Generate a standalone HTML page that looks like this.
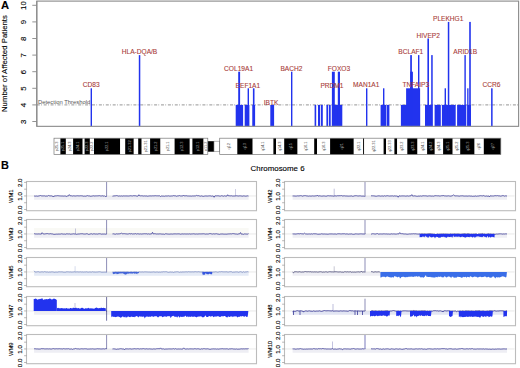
<!DOCTYPE html>
<html><head><meta charset="utf-8"><style>
html,body{margin:0;padding:0;background:#fff;}
body{width:520px;height:368px;overflow:hidden;}
svg{display:block;}
text{stroke:#000;stroke-width:0.12px;}
text.r{stroke:#a83c38;stroke-width:0.1px;}
text.n{stroke:none;}
</style></head><body>
<svg width="520" height="368" viewBox="0 0 520 368">
<rect width="520" height="368" fill="#fff"/>
<text x="0.9" y="9.0" font-size="11.2" font-weight="bold" font-family='"Liberation Sans", sans-serif'>A</text>
<text transform="translate(6.7,63.6) rotate(-90)" text-anchor="middle" font-size="7.8" font-family='"Liberation Sans", sans-serif'>Number of Affected Patients</text>
<text transform="translate(25.8,121.80) rotate(-90)" text-anchor="middle" font-size="7.8" font-family='"Liberation Sans", sans-serif'>3</text>
<line x1="32.3" y1="121.50" x2="36.8" y2="121.50" stroke="#777" stroke-width="0.8"/>
<text transform="translate(25.8,105.20) rotate(-90)" text-anchor="middle" font-size="7.8" font-family='"Liberation Sans", sans-serif'>4</text>
<line x1="32.3" y1="104.90" x2="36.8" y2="104.90" stroke="#777" stroke-width="0.8"/>
<text transform="translate(25.8,88.60) rotate(-90)" text-anchor="middle" font-size="7.8" font-family='"Liberation Sans", sans-serif'>5</text>
<line x1="32.3" y1="88.30" x2="36.8" y2="88.30" stroke="#777" stroke-width="0.8"/>
<text transform="translate(25.8,72.00) rotate(-90)" text-anchor="middle" font-size="7.8" font-family='"Liberation Sans", sans-serif'>6</text>
<line x1="32.3" y1="71.70" x2="36.8" y2="71.70" stroke="#777" stroke-width="0.8"/>
<text transform="translate(25.8,55.40) rotate(-90)" text-anchor="middle" font-size="7.8" font-family='"Liberation Sans", sans-serif'>7</text>
<line x1="32.3" y1="55.10" x2="36.8" y2="55.10" stroke="#777" stroke-width="0.8"/>
<text transform="translate(25.8,38.80) rotate(-90)" text-anchor="middle" font-size="7.8" font-family='"Liberation Sans", sans-serif'>8</text>
<line x1="32.3" y1="38.50" x2="36.8" y2="38.50" stroke="#777" stroke-width="0.8"/>
<text transform="translate(25.8,22.20) rotate(-90)" text-anchor="middle" font-size="7.8" font-family='"Liberation Sans", sans-serif'>9</text>
<line x1="32.3" y1="21.90" x2="36.8" y2="21.90" stroke="#777" stroke-width="0.8"/>
<text transform="translate(25.8,5.60) rotate(-90)" text-anchor="middle" font-size="7.8" font-family='"Liberation Sans", sans-serif'>10</text>
<line x1="32.3" y1="5.30" x2="36.8" y2="5.30" stroke="#777" stroke-width="0.8"/>
<line x1="36.8" y1="104.9" x2="518.6" y2="104.9" stroke="#8a8a8a" stroke-width="0.9" stroke-dasharray="3 1.3 0.8 1.8"/>
<text class="n" x="38" y="104.1" font-size="5.85" fill="#555" font-family='"Liberation Sans", sans-serif'>Detection Threshold</text>
<rect x="90.6" y="88.30" width="1.40" height="38.05" fill="#2233ee"/>
<rect x="138.8" y="55.10" width="1.50" height="71.25" fill="#2233ee"/>
<rect x="235.7" y="104.90" width="7.40" height="21.45" fill="#2233ee"/>
<rect x="238.2" y="71.70" width="1.90" height="54.65" fill="#2233ee"/>
<rect x="244.7" y="104.90" width="4.70" height="21.45" fill="#2233ee"/>
<rect x="247.6" y="88.30" width="1.40" height="38.05" fill="#2233ee"/>
<rect x="252.3" y="104.90" width="2.80" height="21.45" fill="#2233ee"/>
<rect x="252.9" y="88.30" width="1.60" height="38.05" fill="#2233ee"/>
<rect x="270.3" y="104.90" width="3.80" height="21.45" fill="#2233ee"/>
<rect x="291.0" y="71.70" width="1.40" height="54.65" fill="#2233ee"/>
<rect x="314.6" y="104.90" width="1.60" height="21.45" fill="#2233ee"/>
<rect x="318.0" y="104.90" width="2.10" height="21.45" fill="#2233ee"/>
<rect x="320.9" y="104.90" width="1.90" height="21.45" fill="#2233ee"/>
<rect x="326.4" y="104.90" width="1.80" height="21.45" fill="#2233ee"/>
<rect x="329.0" y="104.90" width="1.70" height="21.45" fill="#2233ee"/>
<rect x="331.9" y="104.90" width="10.40" height="21.45" fill="#2233ee"/>
<rect x="331.9" y="71.70" width="2.90" height="54.65" fill="#2233ee"/>
<rect x="337.8" y="71.70" width="2.20" height="54.65" fill="#2233ee"/>
<rect x="366.0" y="88.30" width="1.40" height="38.05" fill="#2233ee"/>
<rect x="380.6" y="104.90" width="5.60" height="21.45" fill="#2233ee"/>
<rect x="386.7" y="104.90" width="2.70" height="21.45" fill="#2233ee"/>
<rect x="383.0" y="88.30" width="1.40" height="38.05" fill="#2233ee"/>
<rect x="400.9" y="104.90" width="19.20" height="21.45" fill="#2233ee"/>
<rect x="406.1" y="88.30" width="14.00" height="38.05" fill="#2233ee"/>
<rect x="410.2" y="71.70" width="2.70" height="54.65" fill="#2233ee"/>
<rect x="410.2" y="55.10" width="1.70" height="71.25" fill="#2233ee"/>
<rect x="418.0" y="55.10" width="1.40" height="71.25" fill="#2233ee"/>
<rect x="425.0" y="104.90" width="7.50" height="21.45" fill="#2233ee"/>
<rect x="427.4" y="38.50" width="1.60" height="87.85" fill="#2233ee"/>
<rect x="431.2" y="55.10" width="1.50" height="71.25" fill="#2233ee"/>
<rect x="434.6" y="104.90" width="6.20" height="21.45" fill="#2233ee"/>
<rect x="441.9" y="104.90" width="13.80" height="21.45" fill="#2233ee"/>
<rect x="444.6" y="88.30" width="1.40" height="38.05" fill="#2233ee"/>
<rect x="447.8" y="21.90" width="1.50" height="104.45" fill="#2233ee"/>
<rect x="457.1" y="104.90" width="9.20" height="21.45" fill="#2233ee"/>
<rect x="464.4" y="55.10" width="1.40" height="71.25" fill="#2233ee"/>
<rect x="467.3" y="104.90" width="3.70" height="21.45" fill="#2233ee"/>
<rect x="467.2" y="88.30" width="1.30" height="38.05" fill="#2233ee"/>
<rect x="469.2" y="21.90" width="1.60" height="104.45" fill="#2233ee"/>
<rect x="491.1" y="88.30" width="1.50" height="38.05" fill="#2233ee"/>
<text class="r" x="91.2" y="87.0" text-anchor="middle" font-size="6.6" fill="#a83c38" font-family='"Liberation Sans", sans-serif'>CD83</text>
<text class="r" x="139.5" y="54.2" text-anchor="middle" font-size="6.6" fill="#a83c38" font-family='"Liberation Sans", sans-serif'>HLA-DQA/B</text>
<text class="r" x="238.6" y="70.9" text-anchor="middle" font-size="6.6" fill="#a83c38" font-family='"Liberation Sans", sans-serif'>COL19A1</text>
<text class="r" x="247.9" y="87.5" text-anchor="middle" font-size="6.6" fill="#a83c38" font-family='"Liberation Sans", sans-serif'>EEF1A1</text>
<text class="r" x="271.0" y="104.7" text-anchor="middle" font-size="6.6" fill="#a83c38" font-family='"Liberation Sans", sans-serif'>IBTK</text>
<text class="r" x="291.4" y="70.7" text-anchor="middle" font-size="6.6" fill="#a83c38" font-family='"Liberation Sans", sans-serif'>BACH2</text>
<text class="r" x="332.0" y="87.5" text-anchor="middle" font-size="6.6" fill="#a83c38" font-family='"Liberation Sans", sans-serif'>PRDM1</text>
<text class="r" x="339.0" y="70.8" text-anchor="middle" font-size="6.6" fill="#a83c38" font-family='"Liberation Sans", sans-serif'>FOXO3</text>
<text class="r" x="366.2" y="87.2" text-anchor="middle" font-size="6.6" fill="#a83c38" font-family='"Liberation Sans", sans-serif'>MAN1A1</text>
<text class="r" x="410.8" y="54.4" text-anchor="middle" font-size="6.6" fill="#a83c38" font-family='"Liberation Sans", sans-serif'>BCLAF1</text>
<text class="r" x="415.8" y="87.0" text-anchor="middle" font-size="6.6" fill="#a83c38" font-family='"Liberation Sans", sans-serif'>TNFAIP3</text>
<text class="r" x="428.2" y="37.8" text-anchor="middle" font-size="6.6" fill="#a83c38" font-family='"Liberation Sans", sans-serif'>HIVEP2</text>
<text class="r" x="448.2" y="21.3" text-anchor="middle" font-size="6.6" fill="#a83c38" font-family='"Liberation Sans", sans-serif'>PLEKHG1</text>
<text class="r" x="465.2" y="54.2" text-anchor="middle" font-size="6.6" fill="#a83c38" font-family='"Liberation Sans", sans-serif'>ARID1B</text>
<text class="r" x="491.5" y="87.3" text-anchor="middle" font-size="6.6" fill="#a83c38" font-family='"Liberation Sans", sans-serif'>CCR6</text>
<rect x="36.8" y="1.1" width="481.80" height="125.25" fill="none" stroke="#8e8e8e" stroke-width="1.15"/>
<line x1="36.8" y1="1.1" x2="36.8" y2="126.35" stroke="#888" stroke-width="1"/>
<rect x="54.0" y="138.2" width="6.40" height="16.30" fill="#fff"/>
<text class="n" transform="translate(58.40,146.35) rotate(-90)" text-anchor="middle" font-size="3.9" fill="#444" font-family='"Liberation Sans", sans-serif'>p25.3</text>
<rect x="60.4" y="138.2" width="5.50" height="16.30" fill="#000"/>
<text class="n" transform="translate(64.35,146.35) rotate(-90)" text-anchor="middle" font-size="3.9" fill="#aaa" font-family='"Liberation Sans", sans-serif'>p25.1</text>
<rect x="65.9" y="138.2" width="7.20" height="16.30" fill="#fff"/>
<text class="n" transform="translate(70.70,146.35) rotate(-90)" text-anchor="middle" font-size="3.9" fill="#444" font-family='"Liberation Sans", sans-serif'>p24.3</text>
<rect x="73.1" y="138.2" width="9.60" height="16.30" fill="#000"/>
<text class="n" transform="translate(79.10,146.35) rotate(-90)" text-anchor="middle" font-size="3.9" fill="#aaa" font-family='"Liberation Sans", sans-serif'>p24.1</text>
<rect x="82.7" y="138.2" width="1.90" height="16.30" fill="#fff"/>
<rect x="84.6" y="138.2" width="5.30" height="16.30" fill="#000"/>
<text class="n" transform="translate(88.45,146.35) rotate(-90)" text-anchor="middle" font-size="3.9" fill="#aaa" font-family='"Liberation Sans", sans-serif'>p22.3</text>
<rect x="89.9" y="138.2" width="4.10" height="16.30" fill="#fff"/>
<text class="n" transform="translate(93.15,146.35) rotate(-90)" text-anchor="middle" font-size="3.9" fill="#444" font-family='"Liberation Sans", sans-serif'>p22.2</text>
<rect x="94.0" y="138.2" width="26.20" height="16.30" fill="#000"/>
<text class="n" transform="translate(108.30,146.35) rotate(-90)" text-anchor="middle" font-size="3.9" fill="#aaa" font-family='"Liberation Sans", sans-serif'>p22.1</text>
<rect x="120.2" y="138.2" width="5.00" height="16.30" fill="#fff"/>
<rect x="125.2" y="138.2" width="8.60" height="16.30" fill="#000"/>
<text class="n" transform="translate(130.70,146.35) rotate(-90)" text-anchor="middle" font-size="3.9" fill="#aaa" font-family='"Liberation Sans", sans-serif'>p21.32</text>
<rect x="133.8" y="138.2" width="4.40" height="16.30" fill="#fff"/>
<rect x="138.2" y="138.2" width="3.50" height="16.30" fill="#000"/>
<rect x="141.7" y="138.2" width="8.40" height="16.30" fill="#fff"/>
<text class="n" transform="translate(147.10,146.35) rotate(-90)" text-anchor="middle" font-size="3.9" fill="#444" font-family='"Liberation Sans", sans-serif'>p21.31</text>
<rect x="150.1" y="138.2" width="10.40" height="16.30" fill="#000"/>
<text class="n" transform="translate(156.50,146.35) rotate(-90)" text-anchor="middle" font-size="3.9" fill="#aaa" font-family='"Liberation Sans", sans-serif'>p21.2</text>
<rect x="160.5" y="138.2" width="14.10" height="16.30" fill="#fff"/>
<text class="n" transform="translate(168.75,146.35) rotate(-90)" text-anchor="middle" font-size="3.9" fill="#444" font-family='"Liberation Sans", sans-serif'>p21.1</text>
<rect x="174.6" y="138.2" width="15.20" height="16.30" fill="#000"/>
<text class="n" transform="translate(183.40,146.35) rotate(-90)" text-anchor="middle" font-size="3.9" fill="#aaa" font-family='"Liberation Sans", sans-serif'>p12.3</text>
<rect x="189.8" y="138.2" width="2.60" height="16.30" fill="#fff"/>
<rect x="192.4" y="138.2" width="11.20" height="16.30" fill="#000"/>
<text class="n" transform="translate(199.20,146.35) rotate(-90)" text-anchor="middle" font-size="3.9" fill="#aaa" font-family='"Liberation Sans", sans-serif'>p12.1</text>
<rect x="203.6" y="138.2" width="4.20" height="16.30" fill="#fff"/>
<text class="n" transform="translate(206.90,146.35) rotate(-90)" text-anchor="middle" font-size="3.9" fill="#444" font-family='"Liberation Sans", sans-serif'>p11.2</text>
<rect x="219.7" y="138.2" width="17.60" height="16.30" fill="#fff"/>
<text class="n" transform="translate(229.70,146.35) rotate(-90)" text-anchor="middle" font-size="3.9" fill="#444" font-family='"Liberation Sans", sans-serif'>q12</text>
<rect x="237.3" y="138.2" width="15.40" height="16.30" fill="#000"/>
<text class="n" transform="translate(246.20,146.35) rotate(-90)" text-anchor="middle" font-size="3.9" fill="#aaa" font-family='"Liberation Sans", sans-serif'>q13</text>
<rect x="252.7" y="138.2" width="20.70" height="16.30" fill="#fff"/>
<text class="n" transform="translate(264.25,146.35) rotate(-90)" text-anchor="middle" font-size="3.9" fill="#444" font-family='"Liberation Sans", sans-serif'>q14.1</text>
<rect x="273.4" y="138.2" width="2.60" height="16.30" fill="#000"/>
<rect x="276.0" y="138.2" width="8.20" height="16.30" fill="#fff"/>
<text class="n" transform="translate(281.30,146.35) rotate(-90)" text-anchor="middle" font-size="3.9" fill="#444" font-family='"Liberation Sans", sans-serif'>q14.3</text>
<rect x="284.2" y="138.2" width="13.40" height="16.30" fill="#000"/>
<text class="n" transform="translate(292.10,146.35) rotate(-90)" text-anchor="middle" font-size="3.9" fill="#aaa" font-family='"Liberation Sans", sans-serif'>q15</text>
<rect x="297.6" y="138.2" width="16.60" height="16.30" fill="#fff"/>
<text class="n" transform="translate(307.10,146.35) rotate(-90)" text-anchor="middle" font-size="3.9" fill="#444" font-family='"Liberation Sans", sans-serif'>q16.1</text>
<rect x="314.2" y="138.2" width="2.90" height="16.30" fill="#000"/>
<rect x="317.1" y="138.2" width="13.00" height="16.30" fill="#fff"/>
<text class="n" transform="translate(324.80,146.35) rotate(-90)" text-anchor="middle" font-size="3.9" fill="#444" font-family='"Liberation Sans", sans-serif'>q16.3</text>
<rect x="330.1" y="138.2" width="23.70" height="16.30" fill="#000"/>
<text class="n" transform="translate(343.15,146.35) rotate(-90)" text-anchor="middle" font-size="3.9" fill="#aaa" font-family='"Liberation Sans", sans-serif'>q21</text>
<rect x="353.8" y="138.2" width="9.30" height="16.30" fill="#fff"/>
<text class="n" transform="translate(359.65,146.35) rotate(-90)" text-anchor="middle" font-size="3.9" fill="#444" font-family='"Liberation Sans", sans-serif'>q22.1</text>
<rect x="363.1" y="138.2" width="1.10" height="16.30" fill="#000"/>
<rect x="364.2" y="138.2" width="19.40" height="16.30" fill="#fff"/>
<text class="n" transform="translate(375.10,146.35) rotate(-90)" text-anchor="middle" font-size="3.9" fill="#444" font-family='"Liberation Sans", sans-serif'>q22.31</text>
<rect x="383.6" y="138.2" width="2.50" height="16.30" fill="#000"/>
<rect x="386.1" y="138.2" width="8.30" height="16.30" fill="#fff"/>
<text class="n" transform="translate(391.45,146.35) rotate(-90)" text-anchor="middle" font-size="3.9" fill="#444" font-family='"Liberation Sans", sans-serif'>q22.33</text>
<rect x="394.4" y="138.2" width="2.80" height="16.30" fill="#000"/>
<rect x="397.2" y="138.2" width="10.10" height="16.30" fill="#fff"/>
<text class="n" transform="translate(403.45,146.35) rotate(-90)" text-anchor="middle" font-size="3.9" fill="#444" font-family='"Liberation Sans", sans-serif'>q23.2</text>
<rect x="407.3" y="138.2" width="10.20" height="16.30" fill="#000"/>
<text class="n" transform="translate(413.60,146.35) rotate(-90)" text-anchor="middle" font-size="3.9" fill="#aaa" font-family='"Liberation Sans", sans-serif'>q23.3</text>
<rect x="417.5" y="138.2" width="9.60" height="16.30" fill="#fff"/>
<text class="n" transform="translate(423.50,146.35) rotate(-90)" text-anchor="middle" font-size="3.9" fill="#444" font-family='"Liberation Sans", sans-serif'>q24.1</text>
<rect x="427.1" y="138.2" width="7.70" height="16.30" fill="#000"/>
<text class="n" transform="translate(432.15,146.35) rotate(-90)" text-anchor="middle" font-size="3.9" fill="#aaa" font-family='"Liberation Sans", sans-serif'>q24.2</text>
<rect x="434.8" y="138.2" width="8.30" height="16.30" fill="#fff"/>
<text class="n" transform="translate(440.15,146.35) rotate(-90)" text-anchor="middle" font-size="3.9" fill="#444" font-family='"Liberation Sans", sans-serif'>q24.3</text>
<rect x="443.1" y="138.2" width="9.60" height="16.30" fill="#000"/>
<text class="n" transform="translate(449.10,146.35) rotate(-90)" text-anchor="middle" font-size="3.9" fill="#aaa" font-family='"Liberation Sans", sans-serif'>q25.1</text>
<rect x="452.7" y="138.2" width="7.50" height="16.30" fill="#fff"/>
<text class="n" transform="translate(457.65,146.35) rotate(-90)" text-anchor="middle" font-size="3.9" fill="#444" font-family='"Liberation Sans", sans-serif'>q25.2</text>
<rect x="460.2" y="138.2" width="14.40" height="16.30" fill="#000"/>
<text class="n" transform="translate(468.60,146.35) rotate(-90)" text-anchor="middle" font-size="3.9" fill="#aaa" font-family='"Liberation Sans", sans-serif'>q25.3</text>
<rect x="474.6" y="138.2" width="9.20" height="16.30" fill="#fff"/>
<text class="n" transform="translate(480.40,146.35) rotate(-90)" text-anchor="middle" font-size="3.9" fill="#444" font-family='"Liberation Sans", sans-serif'>q26</text>
<rect x="483.8" y="138.2" width="17.00" height="16.30" fill="#000"/>
<text class="n" transform="translate(493.50,146.35) rotate(-90)" text-anchor="middle" font-size="3.9" fill="#aaa" font-family='"Liberation Sans", sans-serif'>q27</text>
<rect x="207.8" y="141.2" width="6.2" height="10.5" fill="#000"/>
<rect x="214.0" y="141.2" width="5.7" height="10.5" fill="#fff" stroke="#888" stroke-width="0.6"/>
<rect x="54.0" y="138.2" width="153.80" height="16.30" fill="none" stroke="#777" stroke-width="0.7"/>
<rect x="219.7" y="138.2" width="281.10" height="16.30" fill="none" stroke="#777" stroke-width="0.7"/>
<text x="0.9" y="169.4" font-size="10.9" font-weight="bold" font-family='"Liberation Sans", sans-serif'>B</text>
<text x="277.6" y="171.3" text-anchor="middle" font-size="7.9" font-family='"Liberation Sans", sans-serif'>Chromosome 6</text>
<rect x="34.1" y="195.95" width="214.5" height="3.8" fill="#eeeef4"/>
<line x1="26.5" y1="195.95" x2="256.5" y2="195.95" stroke="#dcdcdc" stroke-width="0.6"/>
<polyline points="34.1,196.13 34.9,195.96 35.7,196.15 36.5,196.03 37.3,196.16 38.1,196.22 38.9,195.81 39.7,195.76 40.5,195.50 41.3,195.84 42.1,195.90 42.9,195.91 43.7,195.90 44.5,195.83 45.3,196.17 46.1,195.92 46.9,196.16 47.7,196.02 48.5,195.48 49.3,195.79 50.1,195.94 50.9,195.85 51.7,195.90 52.5,196.08 53.3,197.02 54.1,195.94 54.9,196.11 55.7,195.84 56.5,195.84 57.3,195.70 58.1,195.71 58.9,195.85 59.7,195.92 60.5,195.96 61.3,195.99 62.1,196.05 62.9,195.97 63.7,196.11 64.5,196.00 65.3,195.97 66.1,196.39 66.9,196.39 67.7,195.90 68.5,195.94 69.3,194.61 70.1,195.79 70.9,195.80 71.7,195.85 72.5,196.06 73.3,195.83 74.1,195.87 74.9,195.99 75.7,196.00 76.5,195.87 77.3,195.81 78.1,195.72 78.9,196.00 79.7,195.86 80.5,195.78 81.3,195.78 82.1,196.01 82.9,195.87 83.7,196.26 84.5,196.10 85.3,196.22 86.1,196.02 86.9,195.90 87.7,195.61 88.5,195.93 89.3,195.88 90.1,196.32 90.9,196.16 91.7,196.15 92.5,195.98 93.3,195.77 94.1,195.95 94.9,196.03 95.7,195.88 96.5,195.88 97.3,195.90 98.1,195.78 98.9,195.82 99.7,195.68 100.5,195.95 101.3,195.98 102.1,195.91 102.9,195.71 103.7,196.15 104.5,195.80 105.3,196.61 106.1,196.23 106.9,196.41" fill="none" stroke="#4a4aa0" stroke-width="0.9" stroke-linejoin="round"/><polyline points="112.5,196.21 113.3,196.04 114.1,195.85 114.9,195.91 115.7,195.78 116.5,195.61 117.3,195.73 118.1,195.96 118.9,196.20 119.7,195.92 120.5,196.09 121.3,195.87 122.1,196.20 122.9,196.03 123.7,195.86 124.5,195.96 125.3,195.97 126.1,195.85 126.9,196.05 127.7,195.98 128.5,196.02 129.3,195.96 130.1,195.73 130.9,195.81 131.7,195.89 132.5,195.96 133.3,195.68 134.1,195.81 134.9,195.70 135.7,195.80 136.5,196.05 137.3,196.21 138.1,195.99 138.9,194.76 139.7,195.79 140.5,195.87 141.3,195.76 142.1,195.94 142.9,195.81 143.7,196.09 144.5,195.88 145.3,196.02 146.1,195.96 146.9,195.97 147.7,196.23 148.5,196.05 149.3,195.92 150.1,195.95 150.9,195.88 151.7,195.96 152.5,195.84 153.3,195.85 154.1,195.93 154.9,195.71 155.7,195.73 156.5,195.84 157.3,195.82 158.1,195.96 158.9,195.77 159.7,195.85 160.5,196.52 161.3,196.04 162.1,196.05 162.9,196.13 163.7,196.11 164.5,196.24 165.3,195.96 166.1,196.12 166.9,195.91 167.7,196.00 168.5,195.83 169.3,196.06 170.1,196.10 170.9,196.04 171.7,195.97 172.5,195.95 173.3,195.63 174.1,195.75 174.9,195.83 175.7,195.86 176.5,196.24 177.3,195.97 178.1,195.95 178.9,195.78 179.7,195.58 180.5,195.95 181.3,195.98 182.1,195.94 182.9,195.91 183.7,195.05 184.5,196.07 185.3,195.83 186.1,195.78 186.9,195.77 187.7,196.04 188.5,196.01 189.3,196.06 190.1,196.00 190.9,196.09 191.7,196.14 192.5,195.95 193.3,196.03 194.1,195.87 194.9,196.00 195.7,195.86 196.5,195.40 197.3,195.74 198.1,195.64 198.9,195.76 199.7,196.02 200.5,196.16 201.3,195.89 202.1,196.07 202.9,196.29 203.7,196.32 204.5,196.09 205.3,195.98 206.1,195.91 206.9,196.10 207.7,196.06 208.5,195.95 209.3,195.86 210.1,195.86 210.9,195.95 211.7,196.20 212.5,195.98 213.3,196.12 214.1,197.27 214.9,195.91 215.7,195.79 216.5,195.86 217.3,195.84 218.1,195.70 218.9,196.03 219.7,196.08 220.5,196.11 221.3,195.74 222.1,195.90 222.9,195.94 223.7,196.21 224.5,195.80 225.3,196.08 226.1,195.98 226.9,196.11 227.7,194.75 228.5,195.86 229.3,195.81 230.1,195.86 230.9,195.89 231.7,195.78 232.5,196.06 233.3,196.01 234.1,196.12 234.9,195.89 235.7,195.92 236.5,195.78 237.3,195.90 238.1,195.95 238.9,196.05 239.7,195.83 240.5,195.87 241.3,195.98 242.1,196.17 242.9,196.09 243.7,195.86 244.5,195.98 245.3,196.15 246.1,196.07 246.9,196.03 247.7,195.83 248.5,196.03" fill="none" stroke="#4a4aa0" stroke-width="0.9" stroke-linejoin="round"/>
<line x1="235.7" y1="189.0" x2="235.7" y2="195.95" stroke="#4a4aa0" stroke-width="0.6" opacity="0.55"/>
<line x1="106.6" y1="181.50" x2="106.6" y2="195.95" stroke="#5c5c98" stroke-width="0.7"/>
<rect x="26.5" y="181.50" width="230.0" height="29.2" fill="none" stroke="#bcbcbc" stroke-width="1.1"/>
<line x1="24.1" y1="209.50" x2="26.5" y2="209.50" stroke="#888" stroke-width="0.6"/>
<line x1="24.1" y1="202.72" x2="26.5" y2="202.72" stroke="#888" stroke-width="0.6"/>
<line x1="24.1" y1="195.95" x2="26.5" y2="195.95" stroke="#888" stroke-width="0.6"/>
<line x1="24.1" y1="189.18" x2="26.5" y2="189.18" stroke="#888" stroke-width="0.6"/>
<line x1="24.1" y1="182.40" x2="26.5" y2="182.40" stroke="#888" stroke-width="0.6"/>
<text transform="translate(21.90,209.90) rotate(-90)" text-anchor="middle" font-size="6.2" font-family='"Liberation Sans", sans-serif'>0.0</text>
<text transform="translate(21.90,196.35) rotate(-90)" text-anchor="middle" font-size="6.2" font-family='"Liberation Sans", sans-serif'>1.0</text>
<text transform="translate(21.90,182.80) rotate(-90)" text-anchor="middle" font-size="6.2" font-family='"Liberation Sans", sans-serif'>2.0</text>
<text transform="translate(13.30,196.30) rotate(-90)" text-anchor="middle" font-size="5.8" font-family='"Liberation Sans", sans-serif'>WM1</text>
<rect x="292.6" y="195.95" width="214.4" height="3.8" fill="#eeeef4"/>
<line x1="284.5" y1="195.95" x2="514.5" y2="195.95" stroke="#dcdcdc" stroke-width="0.6"/>
<polyline points="292.6,195.94 293.4,195.95 294.2,195.98 295.0,196.06 295.8,196.10 296.6,196.06 297.4,195.85 298.2,196.03 299.0,195.74 299.8,195.88 300.6,195.67 301.4,195.73 302.2,196.18 303.0,196.02 303.8,195.74 304.6,195.66 305.4,195.65 306.2,195.90 307.0,195.87 307.8,196.07 308.6,196.16 309.4,195.99 310.2,196.04 311.0,196.16 311.8,196.00 312.6,195.90 313.4,196.03 314.2,196.01 315.0,196.06 315.8,195.82 316.6,195.96 317.4,195.07 318.2,196.17 319.0,195.88 319.8,195.81 320.6,195.99 321.4,196.13 322.2,196.12 323.0,195.99 323.8,195.93 324.6,195.99 325.4,196.15 326.2,196.20 327.0,196.05 327.8,195.71 328.6,195.74 329.4,195.88 330.2,195.79 331.0,195.97 331.8,195.91 332.6,195.98 333.4,196.19 334.2,196.01 335.0,195.88 335.8,195.88 336.6,196.00 337.4,195.74 338.2,195.79 339.0,195.78 339.8,195.72 340.6,195.71 341.4,195.56 342.2,195.93 343.0,195.99 343.8,195.84 344.6,195.82 345.4,195.97 346.2,196.06 347.0,195.87 347.8,196.17 348.6,196.13 349.4,196.10 350.2,196.04 351.0,195.99 351.8,195.93 352.6,196.30 353.4,196.23 354.2,195.88 355.0,195.85 355.8,195.70 356.6,195.74 357.4,195.93 358.2,196.01 359.0,195.97 359.8,195.85 360.6,195.90 361.4,196.08 362.2,196.08 363.0,196.15 363.8,196.11 364.6,196.32 365.4,196.23" fill="none" stroke="#4a4aa0" stroke-width="0.9" stroke-linejoin="round"/><polyline points="371.0,195.74 371.8,195.83 372.6,195.82 373.4,195.85 374.2,195.93 375.0,196.10 375.8,196.21 376.6,196.23 377.4,196.00 378.2,195.89 379.0,195.87 379.8,195.96 380.6,196.15 381.4,196.04 382.2,195.89 383.0,196.19 383.8,196.12 384.6,195.76 385.4,196.10 386.2,195.84 387.0,195.96 387.8,195.70 388.6,195.95 389.4,196.07 390.2,196.00 391.0,195.97 391.8,195.93 392.6,195.88 393.4,196.15 394.2,195.95 395.0,195.84 395.8,196.12 396.6,196.03 397.4,196.06 398.2,197.24 399.0,195.87 399.8,195.86 400.6,196.09 401.4,195.98 402.2,195.88 403.0,196.02 403.8,195.92 404.6,195.97 405.4,196.13 406.2,196.06 407.0,196.04 407.8,195.86 408.6,196.15 409.4,195.97 410.2,195.84 411.0,195.82 411.8,194.64 412.6,196.09 413.4,196.02 414.2,195.90 415.0,195.80 415.8,196.09 416.6,196.24 417.4,196.31 418.2,196.07 419.0,196.18 419.8,196.08 420.6,195.95 421.4,196.16 422.2,195.98 423.0,195.79 423.8,195.77 424.6,195.85 425.4,195.83 426.2,195.93 427.0,196.01 427.8,196.20 428.6,195.94 429.4,195.87 430.2,195.96 431.0,196.01 431.8,196.13 432.6,196.04 433.4,196.19 434.2,196.02 435.0,195.54 435.8,195.76 436.6,195.76 437.4,195.85 438.2,195.79 439.0,195.92 439.8,196.05 440.6,195.96 441.4,195.75 442.2,195.77 443.0,195.56 443.8,195.64 444.6,195.92 445.4,195.92 446.2,196.02 447.0,196.01 447.8,195.91 448.6,195.82 449.4,196.01 450.2,196.14 451.0,196.10 451.8,195.88 452.6,195.71 453.4,194.81 454.2,195.57 455.0,195.77 455.8,195.97 456.6,195.87 457.4,195.90 458.2,196.00 459.0,196.08 459.8,196.14 460.6,195.88 461.4,195.87 462.2,195.76 463.0,195.97 463.8,196.00 464.6,196.09 465.4,196.05 466.2,196.03 467.0,196.05 467.8,196.14 468.6,195.99 469.4,195.95 470.2,196.20 471.0,195.88 471.8,196.18 472.6,196.33 473.4,196.21 474.2,196.34 475.0,195.95 475.8,196.00 476.6,196.28 477.4,196.07 478.2,196.12 479.0,195.89 479.8,195.82 480.6,195.69 481.4,195.78 482.2,195.94 483.0,195.81 483.8,195.57 484.6,196.02 485.4,196.21 486.2,195.91 487.0,196.23 487.8,196.18 488.6,195.90 489.4,196.97 490.2,195.81 491.0,195.89 491.8,196.01 492.6,195.99 493.4,196.02 494.2,195.82 495.0,195.74 495.8,195.68 496.6,195.77 497.4,195.60 498.2,195.95 499.0,195.68 499.8,196.01 500.6,196.14 501.4,195.99 502.2,195.60 503.0,195.92 503.8,195.68 504.6,196.13 505.4,195.86 506.2,195.89 507.0,196.08" fill="none" stroke="#4a4aa0" stroke-width="0.9" stroke-linejoin="round"/>
<line x1="334.2" y1="188.7" x2="334.2" y2="195.95" stroke="#4a4aa0" stroke-width="0.6" opacity="0.55"/>
<line x1="365.0" y1="181.50" x2="365.0" y2="195.95" stroke="#5c5c98" stroke-width="0.7"/>
<rect x="284.5" y="181.50" width="231.0" height="29.2" fill="none" stroke="#bcbcbc" stroke-width="1.1"/>
<line x1="282.1" y1="209.50" x2="284.5" y2="209.50" stroke="#888" stroke-width="0.6"/>
<line x1="282.1" y1="202.72" x2="284.5" y2="202.72" stroke="#888" stroke-width="0.6"/>
<line x1="282.1" y1="195.95" x2="284.5" y2="195.95" stroke="#888" stroke-width="0.6"/>
<line x1="282.1" y1="189.18" x2="284.5" y2="189.18" stroke="#888" stroke-width="0.6"/>
<line x1="282.1" y1="182.40" x2="284.5" y2="182.40" stroke="#888" stroke-width="0.6"/>
<text transform="translate(280.20,209.90) rotate(-90)" text-anchor="middle" font-size="6.2" font-family='"Liberation Sans", sans-serif'>0.0</text>
<text transform="translate(280.20,196.35) rotate(-90)" text-anchor="middle" font-size="6.2" font-family='"Liberation Sans", sans-serif'>1.0</text>
<text transform="translate(280.20,182.80) rotate(-90)" text-anchor="middle" font-size="6.2" font-family='"Liberation Sans", sans-serif'>2.0</text>
<text transform="translate(272.20,196.30) rotate(-90)" text-anchor="middle" font-size="5.8" font-family='"Liberation Sans", sans-serif'>WM2</text>
<rect x="34.1" y="227.95" width="214.5" height="6" fill="#f9f9f5"/>
<rect x="34.1" y="233.95" width="214.5" height="3.8" fill="#eeeef4"/>
<line x1="26.5" y1="233.95" x2="256.5" y2="233.95" stroke="#dcdcdc" stroke-width="0.6"/>
<polyline points="34.1,233.78 34.9,233.73 35.7,234.00 36.5,233.97 37.3,234.03 38.1,233.99 38.9,233.89 39.7,233.99 40.5,234.04 41.3,234.13 42.1,232.68 42.9,233.72 43.7,233.95 44.5,233.99 45.3,233.86 46.1,233.70 46.9,233.68 47.7,233.60 48.5,233.84 49.3,233.92 50.1,233.70 50.9,233.76 51.7,233.92 52.5,233.94 53.3,234.23 54.1,234.37 54.9,234.31 55.7,234.22 56.5,234.14 57.3,234.18 58.1,234.05 58.9,234.10 59.7,234.09 60.5,234.07 61.3,233.84 62.1,233.86 62.9,234.08 63.7,234.12 64.5,234.06 65.3,234.28 66.1,233.97 66.9,233.77 67.7,233.92 68.5,233.97 69.3,233.86 70.1,234.14 70.9,234.23 71.7,234.05 72.5,233.98 73.3,233.79 74.1,234.02 74.9,233.94 75.7,234.05 76.5,234.34 77.3,234.15 78.1,234.07 78.9,233.98 79.7,233.96 80.5,233.79 81.3,233.79 82.1,233.67 82.9,233.89 83.7,234.02 84.5,234.06 85.3,234.04 86.1,233.95 86.9,233.63 87.7,233.95 88.5,234.37 89.3,234.34 90.1,233.82 90.9,234.07 91.7,233.77 92.5,234.16 93.3,233.87 94.1,233.88 94.9,233.87 95.7,234.08 96.5,233.99 97.3,234.13 98.1,233.94 98.9,233.79 99.7,233.78 100.5,233.86 101.3,234.16 102.1,234.05 102.9,234.05 103.7,234.07 104.5,234.03 105.3,234.23 106.1,234.01 106.9,234.03" fill="none" stroke="#4a4aa0" stroke-width="0.9" stroke-linejoin="round"/><polyline points="112.5,233.92 113.3,233.79 114.1,234.08 114.9,234.02 115.7,234.19 116.5,233.82 117.3,233.98 118.1,233.94 118.9,233.83 119.7,233.82 120.5,233.76 121.3,232.96 122.1,233.73 122.9,233.75 123.7,233.70 124.5,233.68 125.3,233.87 126.1,233.66 126.9,234.19 127.7,234.01 128.5,233.91 129.3,233.60 130.1,233.97 130.9,233.77 131.7,233.66 132.5,234.00 133.3,233.89 134.1,234.03 134.9,233.74 135.7,233.65 136.5,234.05 137.3,233.78 138.1,233.85 138.9,233.95 139.7,234.04 140.5,233.89 141.3,234.02 142.1,234.09 142.9,233.77 143.7,233.84 144.5,233.73 145.3,233.82 146.1,233.75 146.9,233.81 147.7,234.10 148.5,233.83 149.3,234.08 150.1,233.99 150.9,233.98 151.7,233.85 152.5,232.29 153.3,233.99 154.1,233.72 154.9,233.74 155.7,233.84 156.5,234.02 157.3,233.94 158.1,234.04 158.9,233.95 159.7,233.87 160.5,233.88 161.3,234.04 162.1,234.07 162.9,234.14 163.7,234.11 164.5,234.33 165.3,233.81 166.1,233.92 166.9,233.83 167.7,234.05 168.5,234.10 169.3,234.11 170.1,234.20 170.9,233.89 171.7,234.02 172.5,234.08 173.3,233.93 174.1,234.02 174.9,233.76 175.7,233.91 176.5,233.95 177.3,233.86 178.1,233.98 178.9,233.75 179.7,233.97 180.5,234.20 181.3,234.05 182.1,233.87 182.9,233.96 183.7,234.03 184.5,233.91 185.3,234.01 186.1,233.92 186.9,234.08 187.7,233.94 188.5,234.02 189.3,233.83 190.1,234.06 190.9,234.06 191.7,233.94 192.5,233.92 193.3,233.82 194.1,233.81 194.9,234.07 195.7,234.07 196.5,233.96 197.3,234.06 198.1,234.04 198.9,233.89 199.7,233.88 200.5,233.92 201.3,233.92 202.1,233.81 202.9,233.90 203.7,233.78 204.5,233.90 205.3,234.11 206.1,234.08 206.9,233.94 207.7,234.05 208.5,233.98 209.3,233.69 210.1,233.58 210.9,233.73 211.7,233.93 212.5,234.05 213.3,233.83 214.1,233.84 214.9,234.08 215.7,233.80 216.5,233.74 217.3,233.96 218.1,234.09 218.9,234.23 219.7,234.33 220.5,234.05 221.3,234.00 222.1,233.98 222.9,233.99 223.7,234.14 224.5,234.13 225.3,234.13 226.1,234.13 226.9,234.18 227.7,234.01 228.5,233.93 229.3,233.91 230.1,233.80 230.9,233.89 231.7,233.90 232.5,233.63 233.3,233.63 234.1,233.75 234.9,233.87 235.7,234.04 236.5,234.04 237.3,234.24 238.1,234.05 238.9,233.85 239.7,233.85 240.5,232.59 241.3,234.11 242.1,234.11 242.9,234.10 243.7,234.35 244.5,233.91 245.3,233.95 246.1,234.20 246.9,233.95 247.7,234.10 248.5,233.68" fill="none" stroke="#4a4aa0" stroke-width="0.9" stroke-linejoin="round"/>
<line x1="75.6" y1="228.5" x2="75.6" y2="233.95" stroke="#4a4aa0" stroke-width="0.6" opacity="0.55"/>
<line x1="106.6" y1="219.50" x2="106.6" y2="233.95" stroke="#5c5c98" stroke-width="0.7"/>
<rect x="26.5" y="219.50" width="230.0" height="29.2" fill="none" stroke="#bcbcbc" stroke-width="1.1"/>
<line x1="24.1" y1="247.50" x2="26.5" y2="247.50" stroke="#888" stroke-width="0.6"/>
<line x1="24.1" y1="240.72" x2="26.5" y2="240.72" stroke="#888" stroke-width="0.6"/>
<line x1="24.1" y1="233.95" x2="26.5" y2="233.95" stroke="#888" stroke-width="0.6"/>
<line x1="24.1" y1="227.18" x2="26.5" y2="227.18" stroke="#888" stroke-width="0.6"/>
<line x1="24.1" y1="220.40" x2="26.5" y2="220.40" stroke="#888" stroke-width="0.6"/>
<text transform="translate(21.90,247.90) rotate(-90)" text-anchor="middle" font-size="6.2" font-family='"Liberation Sans", sans-serif'>0.0</text>
<text transform="translate(21.90,234.35) rotate(-90)" text-anchor="middle" font-size="6.2" font-family='"Liberation Sans", sans-serif'>1.0</text>
<text transform="translate(21.90,220.80) rotate(-90)" text-anchor="middle" font-size="6.2" font-family='"Liberation Sans", sans-serif'>2.0</text>
<text transform="translate(13.30,234.30) rotate(-90)" text-anchor="middle" font-size="5.8" font-family='"Liberation Sans", sans-serif'>WM3</text>
<rect x="292.6" y="233.95" width="214.4" height="3.8" fill="#eeeef4"/>
<line x1="284.5" y1="233.95" x2="514.5" y2="233.95" stroke="#dcdcdc" stroke-width="0.6"/>
<polyline points="292.6,233.86 293.4,233.93 294.2,233.90 295.0,234.06 295.8,234.02 296.6,233.91 297.4,233.78 298.2,233.65 299.0,233.89 299.8,233.80 300.6,233.59 301.4,233.77 302.2,233.84 303.0,233.90 303.8,233.89 304.6,233.18 305.4,233.88 306.2,233.96 307.0,234.00 307.8,234.08 308.6,233.99 309.4,233.94 310.2,234.13 311.0,233.93 311.8,233.83 312.6,234.08 313.4,233.75 314.2,233.82 315.0,233.77 315.8,233.84 316.6,233.94 317.4,234.16 318.2,234.24 319.0,234.13 319.8,234.15 320.6,234.10 321.4,233.81 322.2,233.93 323.0,234.03 323.8,234.06 324.6,233.97 325.4,234.07 326.2,234.08 327.0,234.08 327.8,234.22 328.6,234.12 329.4,233.96 330.2,233.89 331.0,234.07 331.8,233.86 332.6,233.97 333.4,234.06 334.2,234.05 335.0,233.85 335.8,234.09 336.6,234.19 337.4,233.87 338.2,233.78 339.0,233.83 339.8,233.79 340.6,233.93 341.4,233.94 342.2,233.79 343.0,233.90 343.8,233.78 344.6,233.77 345.4,234.05 346.2,233.93 347.0,233.98 347.8,234.00 348.6,234.19 349.4,234.00 350.2,233.98 351.0,234.07 351.8,233.86 352.6,234.23 353.4,234.29 354.2,234.29 355.0,233.90 355.8,233.88 356.6,233.93 357.4,234.00 358.2,234.05 359.0,234.04 359.8,233.92 360.6,233.86 361.4,233.87 362.2,233.93 363.0,234.06 363.8,233.98 364.6,234.03 365.4,233.75" fill="none" stroke="#4a4aa0" stroke-width="0.9" stroke-linejoin="round"/><polyline points="371.0,234.02 371.8,234.04 372.6,233.73 373.4,233.78 374.2,233.85 375.0,234.20 375.8,233.96 376.6,233.73 377.4,233.55 378.2,234.04 379.0,234.17 379.8,233.94 380.6,233.94 381.4,233.97 382.2,234.04 383.0,233.88 383.8,233.85 384.6,233.89 385.4,233.97 386.2,233.96 387.0,233.88 387.8,234.14 388.6,234.00 389.4,234.13 390.2,234.09 391.0,234.07 391.8,233.76 392.6,234.04 393.4,233.91 394.2,233.98 395.0,233.95 395.8,234.13 396.6,234.05 397.4,233.87 398.2,233.84 399.0,233.88 399.8,232.60 400.6,233.68 401.4,233.71 402.2,233.64 403.0,233.90 403.8,233.93 404.6,233.99 405.4,233.96 406.2,234.09 407.0,234.23 407.8,234.19 408.6,234.08 409.4,233.95 410.2,234.03 411.0,233.92 411.8,233.89 412.6,233.86 413.4,233.74 414.2,233.88 415.0,233.84 415.8,233.81 416.6,233.94 417.4,234.04 418.2,234.12 419.0,233.99 419.8,233.92 420.6,234.02 421.4,233.82 422.2,233.71 423.0,234.17 423.8,233.92 424.6,233.80 425.4,233.94 426.2,233.99 427.0,234.11 427.8,233.78 428.6,233.69 429.4,233.63 430.2,233.56 431.0,234.08 431.8,233.82 432.6,233.96 433.4,234.12 434.2,234.18 435.0,234.04 435.8,235.08 436.6,234.09 437.4,233.92 438.2,234.15 439.0,234.27 439.8,234.00 440.6,234.02 441.4,233.94 442.2,234.04 443.0,233.86 443.8,233.88 444.6,234.03 445.4,233.93 446.2,233.97 447.0,234.10 447.8,234.03 448.6,234.14 449.4,234.17 450.2,233.89 451.0,233.93 451.8,234.11 452.6,233.99 453.4,234.00 454.2,233.86 455.0,233.76 455.8,234.07 456.6,233.96 457.4,233.87 458.2,233.95 459.0,233.89 459.8,234.15 460.6,234.20 461.4,234.09 462.2,233.93 463.0,233.99 463.8,233.78 464.6,233.63 465.4,233.79 466.2,234.11 467.0,233.83 467.8,233.68 468.6,233.71 469.4,233.93 470.2,234.13 471.0,234.25 471.8,233.94 472.6,234.17 473.4,234.00 474.2,234.04 475.0,234.07 475.8,233.83 476.6,233.82 477.4,234.72 478.2,234.06 479.0,234.04 479.8,233.92 480.6,233.84 481.4,233.79 482.2,233.50 483.0,233.86 483.8,234.12 484.6,233.92 485.4,234.20 486.2,234.26 487.0,234.00 487.8,233.89 488.6,233.63 489.4,233.96 490.2,233.96 491.0,233.85 491.8,234.21 492.6,234.12 493.4,233.95 494.2,234.15 495.0,234.31 495.8,234.21 496.6,234.03 497.4,234.07 498.2,234.03 499.0,233.86 499.8,233.86 500.6,233.84 501.4,233.89 502.2,234.15 503.0,233.92 503.8,233.97 504.6,234.02 505.4,233.89 506.2,233.93 507.0,233.90" fill="none" stroke="#4a4aa0" stroke-width="0.9" stroke-linejoin="round"/>
<polygon points="419.6,233.95 419.6,237.24 420.3,237.08 421.0,237.18 421.7,236.90 422.4,236.78 423.1,236.13 423.8,237.00 424.5,237.25 425.2,235.57 425.9,236.83 426.6,236.65 427.3,236.78 428.0,238.17 428.7,237.05 429.4,236.10 430.1,237.19 430.8,236.87 431.5,237.48 432.2,237.33 432.9,236.88 433.6,236.83 434.3,237.05 435.0,238.42 435.7,236.92 436.4,236.64 437.1,236.96 437.8,237.12 438.5,237.79 439.2,237.54 439.9,237.77 440.6,237.54 441.3,237.05 442.0,236.85 442.7,236.95 443.4,236.66 444.1,236.75 444.8,237.28 445.5,237.13 446.2,237.81 446.9,237.38 447.6,236.83 448.3,236.76 449.0,237.07 449.7,236.98 450.4,237.12 451.1,236.42 451.8,237.27 452.5,237.45 453.2,235.19 453.9,237.01 454.6,236.63 455.3,236.73 456.0,236.51 456.7,236.73 457.4,236.79 458.1,236.85 458.8,236.60 459.5,236.87 460.2,237.01 460.9,237.20 461.6,236.75 462.3,236.52 463.0,237.01 463.7,237.09 464.4,237.20 465.1,237.45 465.8,237.54 466.5,237.06 467.2,236.71 467.9,236.97 468.6,237.04 469.3,237.26 470.0,236.66 470.7,236.83 471.4,236.74 472.1,237.33 472.8,237.39 473.5,236.86 474.2,236.63 474.9,238.06 475.6,236.93 476.3,236.57 477.0,236.74 477.7,236.23 478.4,236.36 479.1,236.96 479.8,236.57 480.5,236.94 481.2,236.72 481.9,237.19 482.6,236.88 483.3,236.29 484.0,236.26 484.7,236.95 485.4,236.72 486.1,237.42 486.8,237.19 487.5,235.78 488.2,237.19 488.9,237.42 489.6,236.49 490.3,237.47 491.0,237.20 491.7,236.70 492.4,236.81 493.1,237.15 493.8,237.01 494.5,237.46 494.7,233.95" fill="#2233ee"/>
<line x1="365.0" y1="219.50" x2="365.0" y2="233.95" stroke="#5c5c98" stroke-width="0.7"/>
<rect x="284.5" y="219.50" width="231.0" height="29.2" fill="none" stroke="#bcbcbc" stroke-width="1.1"/>
<line x1="282.1" y1="247.50" x2="284.5" y2="247.50" stroke="#888" stroke-width="0.6"/>
<line x1="282.1" y1="240.72" x2="284.5" y2="240.72" stroke="#888" stroke-width="0.6"/>
<line x1="282.1" y1="233.95" x2="284.5" y2="233.95" stroke="#888" stroke-width="0.6"/>
<line x1="282.1" y1="227.18" x2="284.5" y2="227.18" stroke="#888" stroke-width="0.6"/>
<line x1="282.1" y1="220.40" x2="284.5" y2="220.40" stroke="#888" stroke-width="0.6"/>
<text transform="translate(280.20,247.90) rotate(-90)" text-anchor="middle" font-size="6.2" font-family='"Liberation Sans", sans-serif'>0.0</text>
<text transform="translate(280.20,234.35) rotate(-90)" text-anchor="middle" font-size="6.2" font-family='"Liberation Sans", sans-serif'>1.0</text>
<text transform="translate(280.20,220.80) rotate(-90)" text-anchor="middle" font-size="6.2" font-family='"Liberation Sans", sans-serif'>2.0</text>
<text transform="translate(272.20,234.30) rotate(-90)" text-anchor="middle" font-size="5.8" font-family='"Liberation Sans", sans-serif'>WM4</text>
<rect x="34.1" y="271.95" width="214.5" height="3.8" fill="#e4eaf6"/>
<line x1="26.5" y1="271.95" x2="256.5" y2="271.95" stroke="#dcdcdc" stroke-width="0.6"/>
<polyline points="34.1,270.83 34.9,271.87 35.7,272.07 36.5,271.98 37.3,271.82 38.1,271.68 38.9,271.82 39.7,272.13 40.5,272.03 41.3,271.88 42.1,271.80 42.9,271.95 43.7,272.04 44.5,271.63 45.3,271.82 46.1,272.04 46.9,272.02 47.7,271.97 48.5,272.20 49.3,272.00 50.1,272.06 50.9,272.04 51.7,271.85 52.5,271.87 53.3,272.02 54.1,272.09 54.9,272.37 55.7,272.04 56.5,272.08 57.3,272.23 58.1,271.75 58.9,272.00 59.7,271.79 60.5,271.90 61.3,271.85 62.1,271.89 62.9,271.97 63.7,272.19 64.5,272.18 65.3,272.22 66.1,271.91 66.9,271.83 67.7,271.85 68.5,271.90 69.3,272.00 70.1,271.94 70.9,271.95 71.7,272.10 72.5,272.04 73.3,272.01 74.1,271.81 74.9,271.84 75.7,272.04 76.5,271.88 77.3,271.82 78.1,272.04 78.9,271.91 79.7,271.94 80.5,271.83 81.3,272.04 82.1,271.89 82.9,272.01 83.7,272.10 84.5,271.96 85.3,272.04 86.1,271.79 86.9,271.87 87.7,272.08 88.5,272.14 89.3,271.97 90.1,271.92 90.9,272.09 91.7,272.07 92.5,271.76 93.3,271.96 94.1,272.09 94.9,271.98 95.7,272.14 96.5,272.02 97.3,272.00 98.1,271.98 98.9,271.76 99.7,271.78 100.5,271.90 101.3,272.17 102.1,272.17 102.9,272.22 103.7,272.17 104.5,272.13 105.3,272.07 106.1,272.41 106.9,272.23" fill="none" stroke="#8193c8" stroke-width="0.9" stroke-linejoin="round"/><polyline points="112.5,272.01 113.3,272.12 114.1,272.19 114.9,271.99 115.7,271.83 116.5,271.95 117.3,272.02 118.1,271.76 118.9,271.97 119.7,271.88 120.5,271.78 121.3,271.87 122.1,272.04 122.9,271.70 123.7,271.83 124.5,271.84 125.3,271.92 126.1,272.06 126.9,271.72 127.7,271.82 128.5,271.97 129.3,272.18 130.1,272.00 130.9,271.80 131.7,271.82 132.5,272.08 133.3,271.98 134.1,271.86 134.9,271.78 135.7,271.92 136.5,271.79 137.3,272.18 138.1,272.18 138.9,271.84 139.7,271.84 140.5,271.99 141.3,271.97 142.1,272.00 142.9,271.87 143.7,272.08 144.5,271.86 145.3,271.88 146.1,271.89 146.9,271.97 147.7,271.99 148.5,272.05 149.3,272.03 150.1,272.10 150.9,272.13 151.7,272.07 152.5,272.02 153.3,271.86 154.1,272.02 154.9,272.04 155.7,272.16 156.5,271.99 157.3,271.96 158.1,272.16 158.9,272.18 159.7,272.03 160.5,272.16 161.3,271.99 162.1,271.88 162.9,271.99 163.7,271.70 164.5,271.81 165.3,271.79 166.1,271.61 166.9,271.92 167.7,272.17 168.5,272.32 169.3,272.18 170.1,272.00 170.9,272.02 171.7,272.15 172.5,272.07 173.3,272.44 174.1,272.17 174.9,271.94 175.7,271.94 176.5,271.80 177.3,271.77 178.1,271.87 178.9,272.12 179.7,272.32 180.5,272.01 181.3,272.15 182.1,271.96 182.9,271.97 183.7,271.98 184.5,271.95 185.3,271.89 186.1,271.75 186.9,271.93 187.7,271.96 188.5,271.68 189.3,271.82 190.1,271.89 190.9,271.92 191.7,271.90 192.5,271.81 193.3,271.93 194.1,271.86 194.9,271.72 195.7,271.69 196.5,271.81 197.3,271.90 198.1,271.70 198.9,271.75 199.7,271.90 200.5,271.96 201.3,272.00 202.1,272.04 202.9,271.70 203.7,271.96 204.5,272.14 205.3,272.07 206.1,271.99 206.9,272.01 207.7,271.98 208.5,272.05 209.3,271.89 210.1,271.85 210.9,271.96 211.7,271.94 212.5,272.14 213.3,272.02 214.1,272.04 214.9,271.92 215.7,271.78 216.5,271.90 217.3,272.18 218.1,271.99 218.9,272.04 219.7,271.68 220.5,271.80 221.3,271.62 222.1,271.75 222.9,271.81 223.7,271.88 224.5,271.85 225.3,271.85 226.1,271.82 226.9,271.75 227.7,272.04 228.5,272.06 229.3,271.79 230.1,271.84 230.9,271.60 231.7,271.81 232.5,272.24 233.3,272.14 234.1,272.06 234.9,272.13 235.7,271.89 236.5,271.90 237.3,271.88 238.1,272.15 238.9,272.25 239.7,271.87 240.5,271.68 241.3,271.89 242.1,272.22 242.9,272.28 243.7,271.64 244.5,272.19 245.3,271.95 246.1,271.97 246.9,271.78 247.7,271.70 248.5,271.89" fill="none" stroke="#8193c8" stroke-width="0.9" stroke-linejoin="round"/>
<polygon points="112.7,271.95 112.7,273.42 113.4,274.24 114.1,273.68 114.8,274.05 115.5,273.44 116.2,273.48 116.9,274.36 117.6,273.88 118.3,274.12 119.0,273.50 119.7,273.58 120.4,273.50 121.1,273.30 121.8,273.62 122.5,273.25 123.2,273.47 123.9,274.04 124.6,274.30 125.3,274.63 126.0,274.17 126.7,274.20 127.4,273.71 128.1,273.23 128.8,274.08 129.5,273.26 130.2,273.56 130.9,273.40 131.6,273.49 132.3,273.68 133.0,273.34 133.7,273.31 134.4,273.66 135.1,273.57 135.8,273.38 136.5,273.75 137.2,274.16 137.9,272.78 138.6,273.62 139.2,271.95" fill="#4466d8"/>
<polygon points="202.3,271.95 202.3,273.61 203.0,275.29 203.7,274.62 204.4,274.78 205.1,274.60 205.8,272.71 206.5,274.37 207.2,274.04 207.9,274.45 208.6,274.21 209.3,273.64 210.0,273.78 210.7,274.28 211.4,274.33 212.1,274.18 212.3,271.95" fill="#3556de"/>
<line x1="75.1" y1="266.2" x2="75.1" y2="271.95" stroke="#8193c8" stroke-width="0.6" opacity="0.55"/>
<line x1="106.6" y1="257.50" x2="106.6" y2="271.95" stroke="#5c5c98" stroke-width="0.7"/>
<rect x="26.5" y="257.50" width="230.0" height="29.2" fill="none" stroke="#bcbcbc" stroke-width="1.1"/>
<line x1="24.1" y1="285.50" x2="26.5" y2="285.50" stroke="#888" stroke-width="0.6"/>
<line x1="24.1" y1="278.73" x2="26.5" y2="278.73" stroke="#888" stroke-width="0.6"/>
<line x1="24.1" y1="271.95" x2="26.5" y2="271.95" stroke="#888" stroke-width="0.6"/>
<line x1="24.1" y1="265.18" x2="26.5" y2="265.18" stroke="#888" stroke-width="0.6"/>
<line x1="24.1" y1="258.40" x2="26.5" y2="258.40" stroke="#888" stroke-width="0.6"/>
<text transform="translate(21.90,285.90) rotate(-90)" text-anchor="middle" font-size="6.2" font-family='"Liberation Sans", sans-serif'>0.0</text>
<text transform="translate(21.90,272.35) rotate(-90)" text-anchor="middle" font-size="6.2" font-family='"Liberation Sans", sans-serif'>1.0</text>
<text transform="translate(21.90,258.80) rotate(-90)" text-anchor="middle" font-size="6.2" font-family='"Liberation Sans", sans-serif'>2.0</text>
<text transform="translate(13.30,272.30) rotate(-90)" text-anchor="middle" font-size="5.8" font-family='"Liberation Sans", sans-serif'>WM5</text>
<rect x="292.6" y="271.95" width="214.4" height="3.8" fill="#eeeef4"/>
<line x1="284.5" y1="271.95" x2="514.5" y2="271.95" stroke="#dcdcdc" stroke-width="0.6"/>
<polyline points="292.6,272.19 293.4,272.82 294.2,271.85 295.0,271.86 295.8,271.71 296.6,271.78 297.4,271.93 298.2,271.97 299.0,271.80 299.8,271.69 300.6,271.96 301.4,272.09 302.2,271.99 303.0,271.92 303.8,272.04 304.6,271.67 305.4,271.55 306.2,271.66 307.0,271.95 307.8,271.73 308.6,271.70 309.4,271.82 310.2,271.62 311.0,271.93 311.8,271.98 312.6,271.88 313.4,272.01 314.2,271.84 315.0,271.98 315.8,271.94 316.6,271.87 317.4,272.08 318.2,272.06 319.0,271.92 319.8,271.78 320.6,271.72 321.4,271.84 322.2,272.12 323.0,272.19 323.8,271.91 324.6,272.08 325.4,271.84 326.2,271.76 327.0,272.10 327.8,272.16 328.6,271.88 329.4,271.71 330.2,271.71 331.0,271.92 331.8,271.89 332.6,271.88 333.4,271.96 334.2,271.91 335.0,271.63 335.8,271.80 336.6,271.78 337.4,271.90 338.2,271.97 339.0,272.00 339.8,271.88 340.6,271.87 341.4,272.12 342.2,272.12 343.0,272.08 343.8,272.24 344.6,271.73 345.4,271.74 346.2,272.02 347.0,271.81 347.8,271.80 348.6,271.97 349.4,271.91 350.2,271.64 351.0,272.07 351.8,272.25 352.6,272.01 353.4,272.12 354.2,272.04 355.0,272.05 355.8,272.17 356.6,271.96 357.4,271.91 358.2,271.81 359.0,271.93 359.8,272.06 360.6,272.03 361.4,271.09 362.2,272.13 363.0,271.91 363.8,271.89 364.6,272.00 365.4,272.10" fill="none" stroke="#555580" stroke-width="0.9" stroke-linejoin="round"/><polyline points="371.0,271.74 371.8,271.64 372.6,271.83 373.4,272.18 374.2,271.97 375.0,271.89 375.8,271.79 376.6,271.98 377.4,271.95 378.2,271.73 379.0,272.03 379.8,271.91" fill="none" stroke="#555580" stroke-width="0.9" stroke-linejoin="round"/>
<polygon points="380.4,271.95 380.4,277.39 381.1,277.44 381.8,277.05 382.5,276.66 383.2,276.72 383.9,276.73 384.6,276.86 385.3,277.52 386.0,276.87 386.7,276.79 387.4,276.36 388.1,277.04 388.8,276.63 389.5,277.36 390.2,277.14 390.9,277.57 391.6,277.50 392.3,277.08 393.0,277.55 393.7,277.42 394.4,275.90 395.1,276.59 395.8,276.47 396.5,276.73 397.2,277.32 397.9,277.13 398.6,276.75 399.3,276.85 400.0,278.43 400.7,277.90 401.4,276.89 402.1,277.11 402.8,276.72 403.5,276.82 404.2,276.88 404.9,277.24 405.6,277.23 406.3,277.13 407.0,276.82 407.7,277.20 408.4,276.68 409.1,276.65 409.8,276.64 410.5,276.77 411.2,276.62 411.9,276.66 412.6,276.71 413.3,276.74 414.0,277.07 414.7,276.25 415.4,276.70 416.1,276.08 416.8,276.42 417.5,276.72 418.2,276.56 418.9,276.37 419.6,276.43 420.3,277.34 421.0,277.39 421.7,277.29 422.4,276.90 423.1,277.88 423.8,277.20 424.5,276.88 425.2,275.94 425.9,275.06 426.6,277.06 427.3,276.79 428.0,276.92 428.7,276.94 429.4,276.93 430.1,276.80 430.8,277.34 431.5,277.21 432.2,277.19 432.9,277.42 433.6,277.60 434.3,277.25 435.0,278.02 435.7,276.80 436.4,277.27 437.1,276.78 437.8,277.44 438.5,276.59 439.2,276.63 439.9,276.94 440.6,276.61 441.3,276.81 442.0,277.61 442.7,277.28 443.4,277.16 444.1,277.22 444.8,275.71 445.5,276.98 446.2,277.36 446.9,277.39 447.6,276.84 448.3,276.58 449.0,276.50 449.7,276.84 450.4,277.10 451.1,278.15 451.8,276.84 452.5,276.77 453.2,276.67 453.9,278.06 454.6,277.41 455.3,277.83 456.0,277.20 456.7,277.71 457.4,276.80 458.1,276.82 458.8,276.91 459.5,276.91 460.2,276.90 460.9,277.50 461.6,277.64 462.3,277.42 463.0,277.30 463.7,276.73 464.4,277.26 465.1,276.64 465.8,276.98 466.5,277.87 467.2,276.83 467.9,276.89 468.6,277.12 469.3,277.53 470.0,276.57 470.7,276.37 471.4,276.81 472.1,277.17 472.8,277.18 473.5,277.03 474.2,276.50 474.9,276.79 475.6,276.82 476.3,276.67 477.0,277.21 477.7,277.53 478.4,277.33 479.1,277.08 479.8,276.83 480.5,276.65 481.2,276.95 481.9,277.16 482.6,276.97 483.3,276.93 484.0,276.68 484.7,276.50 485.4,276.60 486.1,277.22 486.8,277.33 487.5,277.20 488.2,276.68 488.9,276.91 489.6,277.39 490.3,277.67 491.0,277.38 491.7,277.61 492.4,276.96 493.1,276.04 493.8,276.92 494.5,277.19 495.2,278.48 495.9,277.59 496.6,276.96 497.3,277.44 498.0,277.28 498.7,277.31 499.4,277.56 500.1,277.37 500.8,277.08 501.5,276.65 502.2,276.24 502.9,276.51 503.6,276.45 504.3,276.76 505.0,276.92 505.7,277.41 506.4,276.96 506.9,271.95" fill="#3a6ee8"/>
<line x1="334.2" y1="266.3" x2="334.2" y2="271.95" stroke="#555580" stroke-width="0.6" opacity="0.55"/>
<line x1="365.0" y1="257.50" x2="365.0" y2="271.95" stroke="#5c5c98" stroke-width="0.7"/>
<rect x="284.5" y="257.50" width="231.0" height="29.2" fill="none" stroke="#bcbcbc" stroke-width="1.1"/>
<line x1="282.1" y1="285.50" x2="284.5" y2="285.50" stroke="#888" stroke-width="0.6"/>
<line x1="282.1" y1="278.73" x2="284.5" y2="278.73" stroke="#888" stroke-width="0.6"/>
<line x1="282.1" y1="271.95" x2="284.5" y2="271.95" stroke="#888" stroke-width="0.6"/>
<line x1="282.1" y1="265.18" x2="284.5" y2="265.18" stroke="#888" stroke-width="0.6"/>
<line x1="282.1" y1="258.40" x2="284.5" y2="258.40" stroke="#888" stroke-width="0.6"/>
<text transform="translate(280.20,285.90) rotate(-90)" text-anchor="middle" font-size="6.2" font-family='"Liberation Sans", sans-serif'>0.0</text>
<text transform="translate(280.20,272.35) rotate(-90)" text-anchor="middle" font-size="6.2" font-family='"Liberation Sans", sans-serif'>1.0</text>
<text transform="translate(280.20,258.80) rotate(-90)" text-anchor="middle" font-size="6.2" font-family='"Liberation Sans", sans-serif'>2.0</text>
<text transform="translate(272.20,272.30) rotate(-90)" text-anchor="middle" font-size="5.8" font-family='"Liberation Sans", sans-serif'>WM6</text>
<rect x="34.1" y="310.95" width="214.5" height="3.8" fill="#eeeef4"/>
<line x1="26.5" y1="310.95" x2="256.5" y2="310.95" stroke="#dcdcdc" stroke-width="0.6"/>
<polyline points="106.1,310.96 106.9,311.15" fill="none" stroke="#4a4aa0" stroke-width="0.9" stroke-linejoin="round"/>
<polygon points="33.7,310.95 33.7,298.88 34.4,299.08 35.1,298.69 35.8,298.52 36.5,298.99 37.2,299.22 37.9,299.92 38.6,299.10 39.3,299.19 40.0,298.63 40.7,299.11 41.4,298.79 42.1,298.12 42.8,299.13 43.5,300.12 44.2,299.34 44.9,299.41 45.6,299.29 46.3,299.07 47.0,299.28 47.7,299.23 48.4,298.88 49.1,299.00 49.8,298.22 50.5,298.84 51.2,299.28 51.9,299.45 52.6,299.19 53.3,299.05 54.0,298.29 54.7,298.90 55.4,298.95 56.1,299.42 56.8,299.89 56.8,310.95" fill="#2233ee"/>
<polygon points="56.8,310.95 56.8,307.51 57.5,308.18 58.2,307.82 58.9,308.31 59.6,308.35 60.3,308.31 61.0,308.15 61.7,308.06 62.4,308.19 63.1,308.26 63.8,308.62 64.5,308.33 65.2,308.59 65.9,308.15 66.6,308.10 67.3,308.56 68.0,308.61 68.7,308.45 69.4,308.78 70.1,308.08 70.8,308.02 71.5,308.37 72.2,308.39 72.9,307.82 73.6,307.71 74.3,308.02 75.0,308.00 75.7,307.82 76.4,307.66 77.1,308.46 77.8,308.00 78.5,308.10 79.2,308.53 79.9,308.49 80.6,308.44 81.3,307.83 82.0,307.99 82.7,307.69 83.4,308.20 84.1,308.98 84.8,308.42 85.5,308.32 86.2,308.28 86.9,308.43 87.6,308.35 88.3,307.69 89.0,308.14 89.7,308.47 90.4,308.33 91.1,308.53 91.8,308.32 92.5,308.38 93.2,308.44 93.9,308.76 94.6,308.43 95.3,308.06 96.0,307.65 96.7,307.57 97.4,307.99 98.1,308.37 98.8,308.24 99.5,307.97 100.2,308.30 100.9,307.84 101.6,307.65 102.3,308.06 103.0,308.09 103.7,307.79 104.4,307.98 105.1,308.20 105.8,308.22 105.8,310.95" fill="#2233ee"/>
<polygon points="111.2,310.95 111.2,316.35 111.9,317.26 112.6,316.27 113.3,316.85 114.0,317.01 114.7,316.76 115.4,317.22 116.1,316.84 116.8,316.94 117.5,316.55 118.2,316.52 118.9,316.77 119.6,316.96 120.3,317.47 121.0,317.74 121.7,316.88 122.4,316.41 123.1,316.48 123.8,317.19 124.5,317.24 125.2,316.50 125.9,317.81 126.6,317.17 127.3,317.20 128.0,316.34 128.7,316.87 129.4,317.11 130.1,317.20 130.8,316.87 131.5,316.57 132.2,316.89 132.9,316.85 133.6,316.96 134.3,317.32 135.0,316.56 135.7,316.65 136.4,315.96 137.1,316.30 137.8,316.74 138.5,317.56 139.2,315.92 139.9,316.64 140.6,316.40 141.3,316.50 142.0,316.70 142.7,316.74 143.4,316.59 144.1,316.71 144.8,318.39 145.5,316.99 146.2,316.61 146.9,316.72 147.6,316.41 148.3,316.93 149.0,316.57 149.7,316.67 150.4,316.87 151.1,316.81 151.8,315.99 152.5,316.38 153.2,316.66 153.9,316.66 154.6,316.30 155.3,316.20 156.0,316.26 156.7,316.35 157.4,316.98 158.1,317.40 158.8,316.77 159.5,316.15 160.2,316.34 160.9,316.21 161.6,316.34 162.3,316.89 163.0,317.19 163.7,316.54 164.4,316.61 165.1,316.35 165.8,316.63 166.5,316.68 167.2,316.39 167.9,315.97 168.6,316.26 169.3,316.35 170.0,316.21 170.7,318.36 171.4,316.66 172.1,316.37 172.8,316.11 173.5,315.66 174.2,316.78 174.9,316.60 175.6,316.75 176.3,317.22 177.0,316.37 177.7,317.66 178.4,315.86 179.1,317.29 179.8,317.53 180.5,316.60 181.2,316.74 181.9,316.94 182.6,316.87 183.3,316.99 184.0,316.13 184.7,316.87 185.4,315.51 186.1,316.39 186.8,317.10 187.5,316.54 188.2,316.54 188.9,317.29 189.6,316.41 190.3,316.67 191.0,316.97 191.7,316.24 192.4,316.65 193.1,317.03 193.8,316.46 194.5,316.59 195.2,317.12 195.9,316.76 196.6,317.43 197.3,316.65 198.0,316.87 198.7,316.48 199.4,316.40 200.1,316.57 200.8,316.37 201.5,316.40 202.2,317.32 202.9,317.25 203.6,317.16 204.3,316.69 205.0,316.33 205.7,315.16 206.4,316.91 207.1,316.96 207.8,316.90 208.5,316.43 209.2,316.04 209.9,316.22 210.6,316.81 211.3,315.98 212.0,316.65 212.7,315.82 213.4,317.14 214.1,316.80 214.8,316.47 215.5,316.50 216.2,316.77 216.9,316.37 217.6,316.19 218.3,316.24 219.0,316.54 219.7,316.92 220.4,316.92 221.1,316.34 221.8,316.13 222.5,316.36 223.2,316.42 223.9,316.11 224.6,316.03 225.3,316.21 226.0,317.08 226.7,317.16 227.4,317.49 228.1,316.32 228.8,316.74 229.5,316.90 230.2,316.67 230.9,316.18 231.6,316.47 232.3,316.59 233.0,317.13 233.7,316.27 234.4,316.38 235.1,316.26 235.8,316.56 236.5,316.37 237.2,317.61 237.9,317.09 238.6,316.73 239.3,316.83 240.0,316.72 240.7,316.02 241.4,316.61 242.1,316.28 242.8,316.06 243.5,316.48 244.2,316.57 244.9,316.71 245.6,315.76 246.3,316.92 247.0,316.70 247.7,316.65 248.3,310.95" fill="#2233ee"/>
<line x1="75.0" y1="303.0" x2="75.0" y2="310.95" stroke="#4a4aa0" stroke-width="0.6" opacity="0.55"/>
<line x1="106.6" y1="296.50" x2="106.6" y2="320.71" stroke="#33337a" stroke-width="0.7"/>
<rect x="26.5" y="296.50" width="230.0" height="29.2" fill="none" stroke="#bcbcbc" stroke-width="1.1"/>
<line x1="24.1" y1="324.50" x2="26.5" y2="324.50" stroke="#888" stroke-width="0.6"/>
<line x1="24.1" y1="317.73" x2="26.5" y2="317.73" stroke="#888" stroke-width="0.6"/>
<line x1="24.1" y1="310.95" x2="26.5" y2="310.95" stroke="#888" stroke-width="0.6"/>
<line x1="24.1" y1="304.18" x2="26.5" y2="304.18" stroke="#888" stroke-width="0.6"/>
<line x1="24.1" y1="297.40" x2="26.5" y2="297.40" stroke="#888" stroke-width="0.6"/>
<text transform="translate(21.90,324.90) rotate(-90)" text-anchor="middle" font-size="6.2" font-family='"Liberation Sans", sans-serif'>0.0</text>
<text transform="translate(21.90,311.35) rotate(-90)" text-anchor="middle" font-size="6.2" font-family='"Liberation Sans", sans-serif'>1.0</text>
<text transform="translate(21.90,297.80) rotate(-90)" text-anchor="middle" font-size="6.2" font-family='"Liberation Sans", sans-serif'>2.0</text>
<text transform="translate(13.30,311.30) rotate(-90)" text-anchor="middle" font-size="5.8" font-family='"Liberation Sans", sans-serif'>WM7</text>
<rect x="292.6" y="310.95" width="214.4" height="3.8" fill="#e2e5f3"/>
<line x1="284.5" y1="310.95" x2="514.5" y2="310.95" stroke="#dcdcdc" stroke-width="0.6"/>
<polyline points="292.6,311.63 293.4,311.13 294.2,311.24 295.0,311.36 295.8,311.19 296.6,310.81 297.4,310.65 298.2,310.89 299.0,311.10 299.8,310.91 300.6,310.78 301.4,310.86 302.2,311.27 303.0,311.02 303.8,312.04 304.6,311.28 305.4,310.93 306.2,310.93 307.0,311.09 307.8,311.22 308.6,310.95 309.4,310.87 310.2,310.96 311.0,311.41 311.8,311.13 312.6,311.29 313.4,310.90 314.2,311.16 315.0,311.10 315.8,311.27 316.6,311.06 317.4,311.08 318.2,311.06 319.0,311.05 319.8,310.80 320.6,311.21 321.4,311.36 322.2,311.19 323.0,311.00 323.8,310.68 324.6,310.55 325.4,310.74 326.2,310.75 327.0,310.92 327.8,310.68 328.6,310.74 329.4,310.79 330.2,310.87 331.0,310.89 331.8,310.93 332.6,310.77 333.4,311.13 334.2,311.17 335.0,310.83 335.8,311.06 336.6,310.96 337.4,311.01 338.2,311.11 339.0,311.05 339.8,311.07 340.6,310.85 341.4,310.96 342.2,311.00 343.0,311.10 343.8,310.84 344.6,310.96 345.4,311.02 346.2,311.04 347.0,311.09 347.8,311.23 348.6,311.06 349.4,310.61 350.2,310.58 351.0,310.88 351.8,310.82 352.6,310.80 353.4,311.06 354.2,310.94 355.0,310.90 355.8,310.85 356.6,311.06 357.4,310.90 358.2,310.97 359.0,310.98 359.8,311.11 360.6,311.09 361.4,311.01 362.2,311.18 363.0,311.04 363.8,311.08 364.6,311.02 365.4,310.68" fill="none" stroke="#3a3a98" stroke-width="0.9" stroke-linejoin="round"/><polyline points="371.0,310.82 371.8,310.96 372.6,310.70 373.4,311.02 374.2,311.10 375.0,311.01 375.8,310.88 376.6,311.09 377.4,311.19 378.2,311.09 379.0,310.95 379.8,311.03 380.6,311.14 381.4,310.83 382.2,311.12 383.0,311.01 383.8,311.12 384.6,310.99 385.4,310.82 386.2,310.80 387.0,310.84 387.8,310.80 388.6,311.17 389.4,311.15 390.2,311.01 391.0,311.12 391.8,310.94 392.6,310.71 393.4,310.56 394.2,310.68 395.0,310.96 395.8,311.05 396.6,311.16 397.4,311.07 398.2,310.95 399.0,311.18 399.8,311.24 400.6,311.01 401.4,311.19 402.2,310.97 403.0,311.00 403.8,310.80 404.6,310.83 405.4,310.82 406.2,310.95 407.0,310.88 407.8,311.02 408.6,311.03 409.4,311.00 410.2,311.02 411.0,310.82 411.8,310.95 412.6,310.91 413.4,310.50 414.2,310.80 415.0,310.76 415.8,310.94 416.6,310.79 417.4,311.09 418.2,311.02 419.0,311.07 419.8,310.96 420.6,311.01 421.4,310.82 422.2,310.82 423.0,311.00 423.8,310.86 424.6,310.80 425.4,310.93 426.2,311.23 427.0,311.26 427.8,311.00 428.6,311.27 429.4,311.05 430.2,311.08 431.0,311.26 431.8,311.05 432.6,311.14 433.4,310.77 434.2,310.68 435.0,310.83 435.8,310.65 436.6,310.90 437.4,310.77 438.2,311.12 439.0,310.91 439.8,310.90 440.6,310.83 441.4,311.16 442.2,311.03 443.0,312.03 443.8,310.80 444.6,310.79 445.4,310.77 446.2,310.93 447.0,310.97 447.8,310.77 448.6,310.80 449.4,310.74 450.2,311.06 451.0,311.19 451.8,311.11 452.6,311.08 453.4,311.15 454.2,311.10 455.0,311.09 455.8,311.05 456.6,311.84 457.4,311.02 458.2,311.30 459.0,311.09 459.8,311.11 460.6,311.04 461.4,311.23 462.2,310.91 463.0,311.05 463.8,311.12 464.6,311.19 465.4,310.87 466.2,310.92 467.0,310.88 467.8,311.01 468.6,310.88 469.4,311.02 470.2,311.07 471.0,311.24 471.8,310.82 472.6,311.13 473.4,311.13 474.2,311.25 475.0,311.14 475.8,310.74 476.6,310.88 477.4,310.89 478.2,310.90 479.0,310.66 479.8,310.80 480.6,311.15 481.4,311.15 482.2,311.04 483.0,311.04 483.8,311.00 484.6,311.24 485.4,311.26 486.2,311.17 487.0,311.18 487.8,310.98 488.6,311.11 489.4,310.77 490.2,310.85 491.0,310.71 491.8,310.95 492.6,310.94 493.4,311.03 494.2,310.63 495.0,310.98 495.8,310.96 496.6,311.11 497.4,310.96 498.2,311.08 499.0,310.75 499.8,310.90 500.6,310.77 501.4,310.77 502.2,310.83 503.0,310.85 503.8,311.03 504.6,311.23 505.4,311.21 506.2,310.77 507.0,310.99" fill="none" stroke="#3a3a98" stroke-width="0.9" stroke-linejoin="round"/>
<polygon points="370.0,310.95 370.0,315.70 370.7,316.85 371.4,315.77 372.1,316.15 372.8,316.01 373.5,315.66 374.2,316.25 374.9,316.26 375.6,315.91 376.3,315.52 377.0,315.85 377.7,316.29 378.4,316.09 379.1,315.40 379.8,316.03 380.5,315.47 381.2,315.92 381.9,315.66 382.6,315.69 383.3,315.34 384.0,315.71 384.7,315.74 385.4,315.66 386.1,315.88 386.8,316.81 387.5,316.31 388.2,315.57 388.9,315.43 389.6,315.73 390.0,310.95" fill="#2233ee"/>
<polygon points="396.2,310.95 396.2,316.28 396.9,315.71 397.6,315.79 398.3,316.21 399.0,315.32 399.7,315.20 400.4,317.34 401.1,315.73 401.5,310.95" fill="#2233ee"/>
<polygon points="410.0,310.95 410.0,316.13 410.7,316.63 411.4,316.46 412.1,316.21 412.8,315.94 413.5,314.48 414.2,316.36 414.9,316.39 415.6,315.74 416.3,317.47 417.0,316.01 417.7,316.17 418.4,315.72 419.1,315.91 419.8,315.09 420.5,316.31 421.2,314.92 421.9,315.85 422.6,315.93 423.3,315.84 424.0,316.26 424.7,315.99 425.4,315.36 426.1,316.29 426.8,315.57 427.5,315.37 428.2,315.90 428.9,315.96 429.6,315.89 430.3,316.16 431.0,315.86 431.5,310.95" fill="#2233ee"/>
<polygon points="449.0,310.95 449.0,316.29 449.7,316.24 450.4,317.11 451.1,316.84 451.8,316.32 452.5,315.93 453.0,310.95" fill="#2233ee"/>
<polygon points="458.8,310.95 458.8,316.63 459.5,316.73 460.2,316.31 460.9,317.45 461.6,316.49 462.3,316.97 463.0,317.19 463.7,316.89 464.4,317.03 465.1,316.64 465.8,317.04 466.5,316.43 467.2,316.68 467.9,317.09 468.6,316.84 469.3,316.59 470.0,316.80 470.7,316.83 471.4,316.61 472.1,316.70 472.8,317.10 473.5,316.87 474.2,316.59 474.9,316.73 475.6,316.61 476.3,316.86 477.0,316.80 477.7,316.91 478.4,316.71 479.1,317.26 479.8,317.48 480.5,317.45 481.2,315.70 481.9,316.56 482.6,316.59 483.3,316.92 484.0,316.58 484.7,316.30 485.4,316.52 486.1,317.19 486.8,315.67 487.5,316.36 488.2,316.36 488.9,317.13 489.6,316.74 490.3,316.30 491.0,316.42 491.7,316.72 492.4,316.21 492.9,310.95" fill="#2233ee"/>
<polygon points="503.4,310.95 503.4,316.72 504.1,316.90 504.8,315.95 505.5,316.37 506.2,316.29 506.9,316.13 507.1,310.95" fill="#2233ee"/>
<line x1="293.5" y1="310.95" x2="293.5" y2="315.01" stroke="#3a3a98" stroke-width="0.8"/>
<line x1="300.0" y1="310.95" x2="300.0" y2="315.01" stroke="#3a3a98" stroke-width="0.8"/>
<line x1="355.0" y1="310.95" x2="355.0" y2="315.01" stroke="#3a3a98" stroke-width="0.8"/>
<line x1="357.5" y1="310.95" x2="357.5" y2="315.01" stroke="#3a3a98" stroke-width="0.8"/>
<line x1="362.5" y1="310.95" x2="362.5" y2="315.01" stroke="#3a3a98" stroke-width="0.8"/>
<line x1="333.0" y1="304.0" x2="333.0" y2="310.95" stroke="#3a3a98" stroke-width="0.6" opacity="0.55"/>
<line x1="365.0" y1="298.70" x2="365.0" y2="310.95" stroke="#5c5c98" stroke-width="0.7"/>
<rect x="284.5" y="296.50" width="231.0" height="29.2" fill="none" stroke="#bcbcbc" stroke-width="1.1"/>
<line x1="282.1" y1="324.50" x2="284.5" y2="324.50" stroke="#888" stroke-width="0.6"/>
<line x1="282.1" y1="317.73" x2="284.5" y2="317.73" stroke="#888" stroke-width="0.6"/>
<line x1="282.1" y1="310.95" x2="284.5" y2="310.95" stroke="#888" stroke-width="0.6"/>
<line x1="282.1" y1="304.18" x2="284.5" y2="304.18" stroke="#888" stroke-width="0.6"/>
<line x1="282.1" y1="297.40" x2="284.5" y2="297.40" stroke="#888" stroke-width="0.6"/>
<text transform="translate(280.20,324.90) rotate(-90)" text-anchor="middle" font-size="6.2" font-family='"Liberation Sans", sans-serif'>0.0</text>
<text transform="translate(280.20,311.35) rotate(-90)" text-anchor="middle" font-size="6.2" font-family='"Liberation Sans", sans-serif'>1.0</text>
<text transform="translate(280.20,297.80) rotate(-90)" text-anchor="middle" font-size="6.2" font-family='"Liberation Sans", sans-serif'>2.0</text>
<text transform="translate(272.20,311.30) rotate(-90)" text-anchor="middle" font-size="5.8" font-family='"Liberation Sans", sans-serif'>WM8</text>
<rect x="34.1" y="348.95" width="214.5" height="3.8" fill="#eeeef4"/>
<line x1="26.5" y1="348.95" x2="256.5" y2="348.95" stroke="#dcdcdc" stroke-width="0.6"/>
<polyline points="34.1,348.71 34.9,348.83 35.7,348.82 36.5,348.95 37.3,348.91 38.1,349.08 38.9,349.01 39.7,349.07 40.5,348.98 41.3,348.70 42.1,348.72 42.9,348.74 43.7,348.72 44.5,348.89 45.3,348.93 46.1,348.87 46.9,348.89 47.7,348.85 48.5,348.95 49.3,348.82 50.1,348.98 50.9,348.99 51.7,349.01 52.5,348.75 53.3,348.61 54.1,348.71 54.9,349.00 55.7,348.80 56.5,348.72 57.3,348.86 58.1,348.73 58.9,348.89 59.7,348.71 60.5,348.83 61.3,348.85 62.1,348.91 62.9,348.98 63.7,348.62 64.5,348.82 65.3,348.92 66.1,348.90 66.9,348.76 67.7,348.83 68.5,348.69 69.3,349.02 70.1,349.04 70.9,349.07 71.7,348.96 72.5,349.39 73.3,349.00 74.1,348.90 74.9,348.81 75.7,348.45 76.5,348.78 77.3,348.93 78.1,348.69 78.9,349.06 79.7,349.07 80.5,348.92 81.3,348.77 82.1,348.90 82.9,348.84 83.7,348.92 84.5,348.77 85.3,348.81 86.1,348.75 86.9,348.98 87.7,349.12 88.5,349.06 89.3,349.03 90.1,348.99 90.9,348.91 91.7,348.95 92.5,348.84 93.3,348.95 94.1,349.06 94.9,349.06 95.7,348.99 96.5,348.90 97.3,348.68 98.1,349.07 98.9,348.66 99.7,348.89 100.5,348.94 101.3,349.00 102.1,348.85 102.9,348.96 103.7,348.82 104.5,349.00 105.3,348.76 106.1,348.63 106.9,348.77" fill="none" stroke="#4a4aa0" stroke-width="0.9" stroke-linejoin="round"/><polyline points="112.5,348.98 113.3,348.87 114.1,348.93 114.9,348.97 115.7,349.15 116.5,349.34 117.3,349.10 118.1,349.04 118.9,349.17 119.7,348.84 120.5,348.72 121.3,348.79 122.1,348.86 122.9,349.13 123.7,348.90 124.5,349.86 125.3,348.82 126.1,348.85 126.9,348.91 127.7,348.91 128.5,349.00 129.3,348.87 130.1,348.83 130.9,348.92 131.7,349.11 132.5,348.96 133.3,348.90 134.1,348.67 134.9,348.78 135.7,348.86 136.5,348.90 137.3,348.71 138.1,348.80 138.9,348.82 139.7,349.05 140.5,348.81 141.3,348.92 142.1,348.78 142.9,348.80 143.7,348.65 144.5,348.87 145.3,348.98 146.1,348.92 146.9,348.71 147.7,349.01 148.5,348.97 149.3,348.83 150.1,348.98 150.9,348.96 151.7,349.05 152.5,349.14 153.3,348.90 154.1,349.05 154.9,348.89 155.7,349.06 156.5,348.76 157.3,348.72 158.1,348.62 158.9,348.75 159.7,348.82 160.5,347.88 161.3,348.96 162.1,348.90 162.9,349.00 163.7,348.85 164.5,349.22 165.3,349.09 166.1,348.99 166.9,349.05 167.7,349.00 168.5,348.92 169.3,348.88 170.1,349.02 170.9,348.89 171.7,348.97 172.5,348.89 173.3,348.60 174.1,349.16 174.9,348.92 175.7,348.64 176.5,349.05 177.3,349.04 178.1,349.13 178.9,348.82 179.7,349.06 180.5,348.98 181.3,349.09 182.1,349.18 182.9,348.93 183.7,347.86 184.5,348.77 185.3,349.07 186.1,349.04 186.9,348.93 187.7,348.89 188.5,349.05 189.3,348.92 190.1,348.87 190.9,348.87 191.7,348.88 192.5,348.93 193.3,349.00 194.1,348.79 194.9,348.71 195.7,348.81 196.5,348.98 197.3,348.81 198.1,348.82 198.9,348.85 199.7,349.12 200.5,349.19 201.3,348.85 202.1,348.86 202.9,349.09 203.7,348.64 204.5,348.71 205.3,348.92 206.1,348.83 206.9,348.98 207.7,348.78 208.5,348.96 209.3,349.19 210.1,349.33 210.9,349.18 211.7,348.98 212.5,348.94 213.3,348.89 214.1,348.90 214.9,349.04 215.7,348.91 216.5,349.11 217.3,348.95 218.1,349.11 218.9,349.12 219.7,348.93 220.5,348.85 221.3,348.83 222.1,348.64 222.9,348.83 223.7,348.90 224.5,348.86 225.3,348.90 226.1,348.97 226.9,348.73 227.7,348.96 228.5,349.20 229.3,348.90 230.1,348.93 230.9,348.87 231.7,348.78 232.5,348.82 233.3,349.02 234.1,349.01 234.9,349.09 235.7,349.13 236.5,348.96 237.3,349.19 238.1,349.17 238.9,349.11 239.7,349.10 240.5,348.95 241.3,348.82 242.1,348.95 242.9,348.91 243.7,348.83 244.5,348.92 245.3,348.81 246.1,348.90 246.9,348.79 247.7,348.80 248.5,348.55" fill="none" stroke="#4a4aa0" stroke-width="0.9" stroke-linejoin="round"/>
<line x1="106.6" y1="334.50" x2="106.6" y2="348.95" stroke="#5c5c98" stroke-width="0.7"/>
<rect x="26.5" y="334.50" width="230.0" height="29.2" fill="none" stroke="#bcbcbc" stroke-width="1.1"/>
<line x1="24.1" y1="362.50" x2="26.5" y2="362.50" stroke="#888" stroke-width="0.6"/>
<line x1="24.1" y1="355.73" x2="26.5" y2="355.73" stroke="#888" stroke-width="0.6"/>
<line x1="24.1" y1="348.95" x2="26.5" y2="348.95" stroke="#888" stroke-width="0.6"/>
<line x1="24.1" y1="342.18" x2="26.5" y2="342.18" stroke="#888" stroke-width="0.6"/>
<line x1="24.1" y1="335.40" x2="26.5" y2="335.40" stroke="#888" stroke-width="0.6"/>
<text transform="translate(21.90,362.90) rotate(-90)" text-anchor="middle" font-size="6.2" font-family='"Liberation Sans", sans-serif'>0.0</text>
<text transform="translate(21.90,349.35) rotate(-90)" text-anchor="middle" font-size="6.2" font-family='"Liberation Sans", sans-serif'>1.0</text>
<text transform="translate(21.90,335.80) rotate(-90)" text-anchor="middle" font-size="6.2" font-family='"Liberation Sans", sans-serif'>2.0</text>
<text transform="translate(13.30,349.30) rotate(-90)" text-anchor="middle" font-size="5.8" font-family='"Liberation Sans", sans-serif'>WM9</text>
<rect x="292.6" y="348.95" width="214.4" height="3.8" fill="#eeeef4"/>
<line x1="284.5" y1="348.95" x2="514.5" y2="348.95" stroke="#dcdcdc" stroke-width="0.6"/>
<polyline points="292.6,348.85 293.4,348.90 294.2,348.95 295.0,348.96 295.8,349.22 296.6,349.06 297.4,348.89 298.2,349.08 299.0,348.74 299.8,348.87 300.6,348.64 301.4,348.89 302.2,349.04 303.0,349.01 303.8,349.27 304.6,349.09 305.4,349.16 306.2,349.04 307.0,349.06 307.8,349.09 308.6,348.97 309.4,348.97 310.2,348.98 311.0,348.97 311.8,349.00 312.6,349.00 313.4,348.65 314.2,348.74 315.0,348.77 315.8,349.05 316.6,348.89 317.4,349.05 318.2,348.63 319.0,348.84 319.8,348.74 320.6,348.73 321.4,348.86 322.2,348.68 323.0,348.43 323.8,348.81 324.6,348.87 325.4,348.83 326.2,349.01 327.0,349.04 327.8,348.97 328.6,348.99 329.4,349.00 330.2,349.07 331.0,349.03 331.8,348.91 332.6,348.69 333.4,349.15 334.2,349.06 335.0,349.16 335.8,349.04 336.6,349.28 337.4,349.10 338.2,348.97 339.0,348.98 339.8,348.71 340.6,348.98 341.4,348.97 342.2,349.70 343.0,349.02 343.8,348.94 344.6,348.84 345.4,348.86 346.2,348.97 347.0,349.02 347.8,348.92 348.6,348.98 349.4,349.05 350.2,349.15 351.0,349.05 351.8,348.75 352.6,348.75 353.4,348.52 354.2,348.78 355.0,348.94 355.8,349.15 356.6,348.98 357.4,348.82 358.2,349.12 359.0,348.68 359.8,349.19 360.6,349.01 361.4,349.04 362.2,348.76 363.0,348.85 363.8,348.95 364.6,348.73 365.4,348.69" fill="none" stroke="#4a4aa0" stroke-width="0.9" stroke-linejoin="round"/><polyline points="371.0,348.79 371.8,348.85 372.6,348.91 373.4,348.88 374.2,348.95 375.0,348.82 375.8,349.15 376.6,348.59 377.4,348.63 378.2,348.71 379.0,349.15 379.8,349.12 380.6,348.96 381.4,349.29 382.2,349.21 383.0,349.09 383.8,348.85 384.6,349.22 385.4,348.99 386.2,348.99 387.0,348.76 387.8,348.92 388.6,348.98 389.4,349.24 390.2,349.22 391.0,349.05 391.8,348.76 392.6,348.99 393.4,349.07 394.2,349.33 395.0,349.01 395.8,348.93 396.6,348.87 397.4,349.03 398.2,349.25 399.0,348.96 399.8,348.91 400.6,349.04 401.4,349.26 402.2,349.29 403.0,349.30 403.8,349.00 404.6,348.98 405.4,348.67 406.2,348.58 407.0,348.77 407.8,349.13 408.6,348.93 409.4,348.99 410.2,348.98 411.0,348.87 411.8,348.90 412.6,349.11 413.4,349.15 414.2,349.08 415.0,349.14 415.8,348.82 416.6,348.85 417.4,349.02 418.2,348.93 419.0,349.02 419.8,348.79 420.6,348.97 421.4,348.75 422.2,348.92 423.0,349.21 423.8,349.14 424.6,349.03 425.4,349.18 426.2,349.32 427.0,349.10 427.8,348.85 428.6,348.85 429.4,348.77 430.2,348.94 431.0,348.83 431.8,349.05 432.6,349.14 433.4,349.07 434.2,348.85 435.0,348.93 435.8,348.89 436.6,348.99 437.4,348.75 438.2,349.03 439.0,348.87 439.8,348.97 440.6,348.86 441.4,348.70 442.2,348.66 443.0,348.66 443.8,348.66 444.6,348.67 445.4,348.90 446.2,348.89 447.0,348.93 447.8,349.22 448.6,348.90 449.4,348.78 450.2,348.75 451.0,348.81 451.8,348.88 452.6,349.10 453.4,349.09 454.2,349.08 455.0,348.87 455.8,348.98 456.6,349.19 457.4,349.10 458.2,349.06 459.0,348.79 459.8,348.82 460.6,348.77 461.4,348.55 462.2,348.67 463.0,348.58 463.8,349.07 464.6,349.03 465.4,349.01 466.2,348.90 467.0,348.69 467.8,348.94 468.6,349.00 469.4,348.74 470.2,348.91 471.0,348.96 471.8,348.65 472.6,348.66 473.4,349.06 474.2,349.03 475.0,349.13 475.8,349.10 476.6,349.06 477.4,348.90 478.2,349.00 479.0,348.97 479.8,348.98 480.6,348.94 481.4,348.98 482.2,348.94 483.0,349.18 483.8,348.81 484.6,349.18 485.4,348.95 486.2,349.02 487.0,349.00 487.8,349.12 488.6,349.23 489.4,349.11 490.2,349.13 491.0,349.46 491.8,349.16 492.6,349.06 493.4,349.14 494.2,349.27 495.0,349.14 495.8,349.05 496.6,349.16 497.4,348.98 498.2,348.96 499.0,349.10 499.8,348.96 500.6,349.15 501.4,349.08 502.2,348.99 503.0,349.02 503.8,348.87 504.6,348.93 505.4,349.01 506.2,349.04 507.0,348.83" fill="none" stroke="#4a4aa0" stroke-width="0.9" stroke-linejoin="round"/>
<line x1="332.5" y1="341.5" x2="332.5" y2="348.95" stroke="#4a4aa0" stroke-width="0.6" opacity="0.55"/>
<line x1="365.0" y1="334.50" x2="365.0" y2="348.95" stroke="#9a9acc" stroke-width="1.3"/>
<rect x="284.5" y="334.50" width="231.0" height="29.2" fill="none" stroke="#bcbcbc" stroke-width="1.1"/>
<line x1="282.1" y1="362.50" x2="284.5" y2="362.50" stroke="#888" stroke-width="0.6"/>
<line x1="282.1" y1="355.73" x2="284.5" y2="355.73" stroke="#888" stroke-width="0.6"/>
<line x1="282.1" y1="348.95" x2="284.5" y2="348.95" stroke="#888" stroke-width="0.6"/>
<line x1="282.1" y1="342.18" x2="284.5" y2="342.18" stroke="#888" stroke-width="0.6"/>
<line x1="282.1" y1="335.40" x2="284.5" y2="335.40" stroke="#888" stroke-width="0.6"/>
<text transform="translate(280.20,362.90) rotate(-90)" text-anchor="middle" font-size="6.2" font-family='"Liberation Sans", sans-serif'>0.0</text>
<text transform="translate(280.20,349.35) rotate(-90)" text-anchor="middle" font-size="6.2" font-family='"Liberation Sans", sans-serif'>1.0</text>
<text transform="translate(280.20,335.80) rotate(-90)" text-anchor="middle" font-size="6.2" font-family='"Liberation Sans", sans-serif'>2.0</text>
<text transform="translate(272.20,349.30) rotate(-90)" text-anchor="middle" font-size="5.8" font-family='"Liberation Sans", sans-serif'>WM10</text>
</svg>
</body></html>
